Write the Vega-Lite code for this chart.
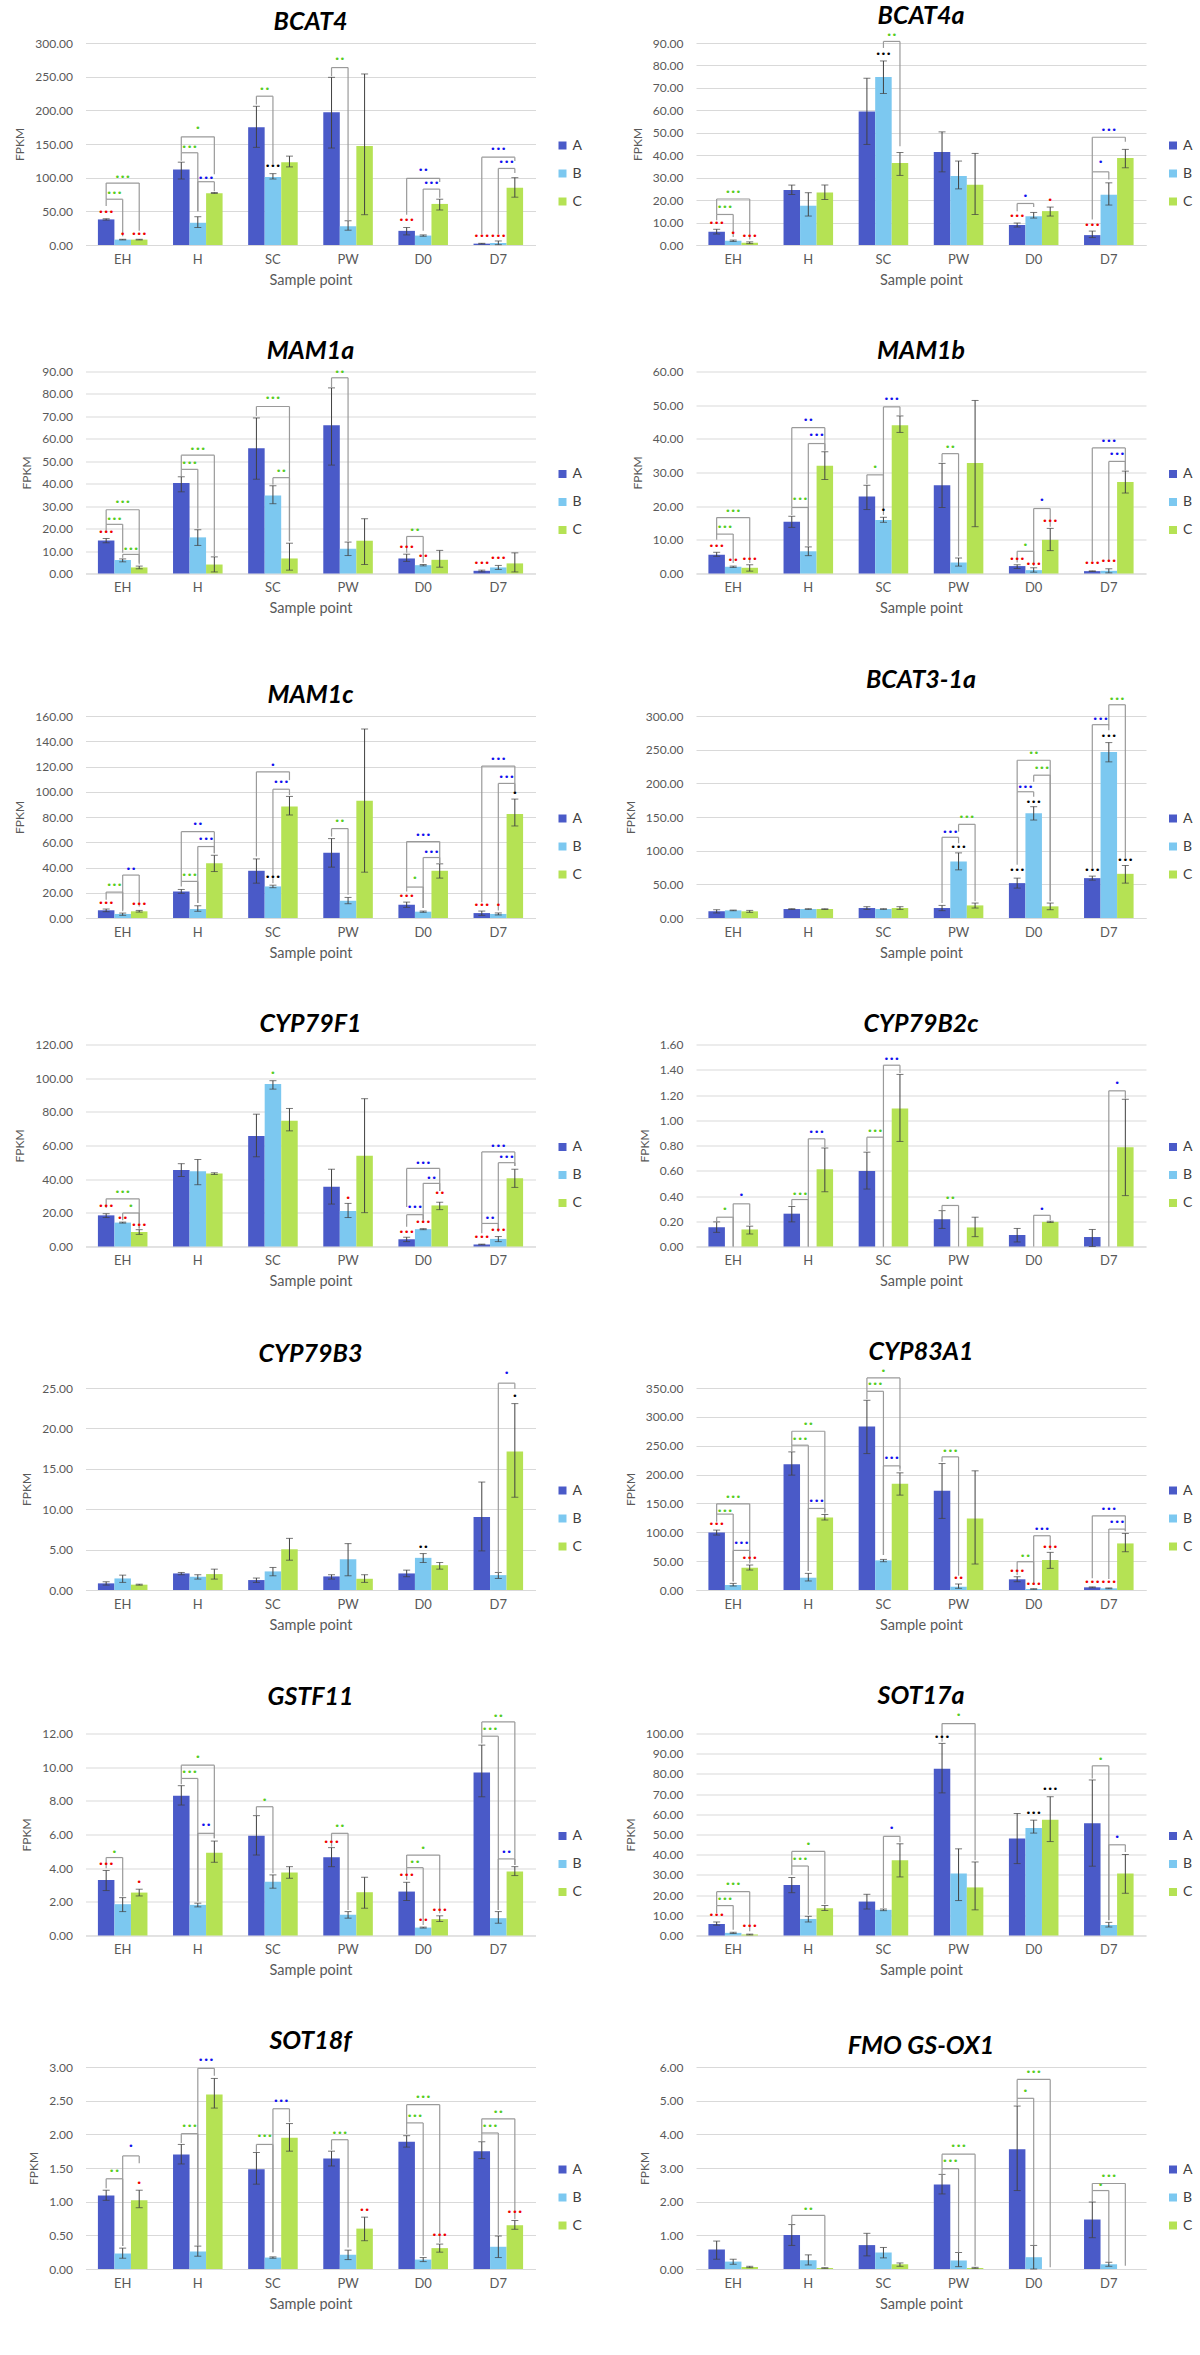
{
  "$schema": "https://vega.github.io/schema/vega-lite/v6.json",
  "padding": {"left": 13.5, "top": 4, "right": 0, "bottom": 0},
  "background": "#ffffff",
  "config": {
    "font": "Lato",
    "view": {"stroke": null, "discreteWidth": 450, "continuousHeight": 202},
    "range": {"category": ["#4a5ac8", "#7cc8f0", "#b5e254"]},
    "scale": {
      "bandPaddingInner": 0.45, "bandPaddingOuter": 0.22,
      "bandWithNestedOffsetPaddingInner": 0.45, "bandWithNestedOffsetPaddingOuter": 0.22,
      "offsetBandPaddingInner": 0, "offsetBandPaddingOuter": 0
    },
    "title": {"fontSize": 25, "fontWeight": "bold", "fontStyle": "italic", "color": "#000000", "offset": 2},
    "axis": {"labelFont": "Lato", "labelColor": "#595959", "titleColor": "#595959", "titleFontWeight": "normal", "ticks": false, "domain": false, "gridColor": "#d9d9d9", "labelFontSize": 12, "titleFontSize": 12},
    "axisX": {"labelAngle": 0, "labelFontSize": 13, "titleFontSize": 14.5, "labelPadding": 8, "titlePadding": 7, "domain": true, "domainColor": "#d9d9d9", "grid": false},
    "axisY": {"labelPadding": 13, "titlePadding": 8, "grid": true},
    "legend": {"orient": "none", "legendX": 470, "legendY": 95.5, "symbolType": "square", "symbolSize": 64, "symbolStrokeWidth": 0, "labelFontSize": 14, "labelColor": "#404040", "rowPadding": 14, "labelOffset": 3}
  },
  "resolve": {"scale": {"color": "independent", "xOffset": "independent"}, "legend": {"color": "independent"}},
  "columns": 2,
  "spacing": {"row": 51.5, "column": 41.5},
  "data": {"values": [
    {"g":"BCAT4","s":"EH","k":"A","v":38,"lo":37,"hi":39},
    {"g":"BCAT4","s":"EH","k":"B","v":8,"lo":7.5,"hi":8.5},
    {"g":"BCAT4","s":"EH","k":"C","v":8,"lo":7.5,"hi":8.5},
    {"g":"BCAT4","s":"H","k":"A","v":112,"lo":98,"hi":123},
    {"g":"BCAT4","s":"H","k":"B","v":33,"lo":26,"hi":42},
    {"g":"BCAT4","s":"H","k":"C","v":77,"lo":76.5,"hi":78},
    {"g":"BCAT4","s":"SC","k":"A","v":175,"lo":145,"hi":206},
    {"g":"BCAT4","s":"SC","k":"B","v":101,"lo":98,"hi":106},
    {"g":"BCAT4","s":"SC","k":"C","v":123,"lo":116,"hi":132},
    {"g":"BCAT4","s":"PW","k":"A","v":197,"lo":144,"hi":249},
    {"g":"BCAT4","s":"PW","k":"B","v":28,"lo":22,"hi":36},
    {"g":"BCAT4","s":"PW","k":"C","v":147,"lo":45,"hi":254},
    {"g":"BCAT4","s":"D0","k":"A","v":21,"lo":15,"hi":26},
    {"g":"BCAT4","s":"D0","k":"B","v":14,"lo":13,"hi":15},
    {"g":"BCAT4","s":"D0","k":"C","v":61,"lo":52,"hi":68},
    {"g":"BCAT4","s":"D7","k":"A","v":2,"lo":1.5,"hi":2.5},
    {"g":"BCAT4","s":"D7","k":"B","v":3,"lo":0.5,"hi":6},
    {"g":"BCAT4","s":"D7","k":"C","v":85,"lo":71,"hi":100},

    {"g":"BCAT4a","s":"EH","k":"A","v":5.9,"lo":4.9,"hi":7},
    {"g":"BCAT4a","s":"EH","k":"B","v":1.9,"lo":1.6,"hi":2.2},
    {"g":"BCAT4a","s":"EH","k":"C","v":1.0,"lo":0.6,"hi":1.4},
    {"g":"BCAT4a","s":"H","k":"A","v":24.5,"lo":22.5,"hi":26.7},
    {"g":"BCAT4a","s":"H","k":"B","v":17.5,"lo":12.9,"hi":23.3},
    {"g":"BCAT4a","s":"H","k":"C","v":23.4,"lo":20.3,"hi":26.7},
    {"g":"BCAT4a","s":"SC","k":"A","v":59.5,"lo":44.8,"hi":74.3},
    {"g":"BCAT4a","s":"SC","k":"B","v":74.9,"lo":67.5,"hi":82},
    {"g":"BCAT4a","s":"SC","k":"C","v":36.5,"lo":31,"hi":41.2},
    {"g":"BCAT4a","s":"PW","k":"A","v":41.4,"lo":32.6,"hi":50.4},
    {"g":"BCAT4a","s":"PW","k":"B","v":30.7,"lo":25,"hi":37.4},
    {"g":"BCAT4a","s":"PW","k":"C","v":26.8,"lo":13.6,"hi":40.8},
    {"g":"BCAT4a","s":"D0","k":"A","v":8.9,"lo":8,"hi":9.8},
    {"g":"BCAT4a","s":"D0","k":"B","v":12.8,"lo":12,"hi":14.5},
    {"g":"BCAT4a","s":"D0","k":"C","v":15.1,"lo":12.9,"hi":16.9},
    {"g":"BCAT4a","s":"D7","k":"A","v":4.4,"lo":3.3,"hi":6.2},
    {"g":"BCAT4a","s":"D7","k":"B","v":22.4,"lo":17.8,"hi":27.7},
    {"g":"BCAT4a","s":"D7","k":"C","v":38.8,"lo":34.4,"hi":42.6},

    {"g":"MAM1a","s":"EH","k":"A","v":14.7,"lo":13.7,"hi":15.6},
    {"g":"MAM1a","s":"EH","k":"B","v":6.0,"lo":5.2,"hi":6.5},
    {"g":"MAM1a","s":"EH","k":"C","v":2.7,"lo":2.1,"hi":3.3},
    {"g":"MAM1a","s":"H","k":"A","v":40.3,"lo":36.4,"hi":43.1},
    {"g":"MAM1a","s":"H","k":"B","v":16.1,"lo":12.5,"hi":19.5},
    {"g":"MAM1a","s":"H","k":"C","v":4.0,"lo":0.7,"hi":7.4},
    {"g":"MAM1a","s":"SC","k":"A","v":55.8,"lo":42,"hi":69.3},
    {"g":"MAM1a","s":"SC","k":"B","v":34.8,"lo":31.1,"hi":39.1},
    {"g":"MAM1a","s":"SC","k":"C","v":6.7,"lo":1.5,"hi":13.5},
    {"g":"MAM1a","s":"PW","k":"A","v":66,"lo":48.3,"hi":82.7},
    {"g":"MAM1a","s":"PW","k":"B","v":11,"lo":8,"hi":14},
    {"g":"MAM1a","s":"PW","k":"C","v":14.6,"lo":4,"hi":24.4},
    {"g":"MAM1a","s":"D0","k":"A","v":6.7,"lo":5.4,"hi":8.6},
    {"g":"MAM1a","s":"D0","k":"B","v":3.7,"lo":3.4,"hi":4},
    {"g":"MAM1a","s":"D0","k":"C","v":6.1,"lo":2.8,"hi":10.3},
    {"g":"MAM1a","s":"D7","k":"A","v":1.2,"lo":0.7,"hi":1.5},
    {"g":"MAM1a","s":"D7","k":"B","v":2.7,"lo":1.8,"hi":3.6},
    {"g":"MAM1a","s":"D7","k":"C","v":4.5,"lo":0.7,"hi":9.2},

    {"g":"MAM1b","s":"EH","k":"A","v":5.6,"lo":5.1,"hi":6.3},
    {"g":"MAM1b","s":"EH","k":"B","v":2.0,"lo":1.8,"hi":2.2},
    {"g":"MAM1b","s":"EH","k":"C","v":1.7,"lo":0.7,"hi":2.6},
    {"g":"MAM1b","s":"H","k":"A","v":15.4,"lo":13.7,"hi":17},
    {"g":"MAM1b","s":"H","k":"B","v":6.6,"lo":5.3,"hi":7.9},
    {"g":"MAM1b","s":"H","k":"C","v":32,"lo":27.9,"hi":36.2},
    {"g":"MAM1b","s":"SC","k":"A","v":22.9,"lo":19,"hi":26.2},
    {"g":"MAM1b","s":"SC","k":"B","v":15.9,"lo":15.2,"hi":16.7},
    {"g":"MAM1b","s":"SC","k":"C","v":44,"lo":41.9,"hi":46.8},
    {"g":"MAM1b","s":"PW","k":"A","v":26.2,"lo":19.6,"hi":32.7},
    {"g":"MAM1b","s":"PW","k":"B","v":3.3,"lo":2.2,"hi":4.6},
    {"g":"MAM1b","s":"PW","k":"C","v":32.8,"lo":13.9,"hi":51.4},
    {"g":"MAM1b","s":"D0","k":"A","v":2.2,"lo":1.5,"hi":2.6},
    {"g":"MAM1b","s":"D0","k":"B","v":1.0,"lo":0.4,"hi":1.7},
    {"g":"MAM1b","s":"D0","k":"C","v":10,"lo":6.8,"hi":13.4},
    {"g":"MAM1b","s":"D7","k":"A","v":0.7,"lo":0.6,"hi":0.8},
    {"g":"MAM1b","s":"D7","k":"B","v":0.8,"lo":0.2,"hi":1.4},
    {"g":"MAM1b","s":"D7","k":"C","v":27.2,"lo":23.9,"hi":30.4},

    {"g":"MAM1c","s":"EH","k":"A","v":6.1,"lo":5,"hi":7.1},
    {"g":"MAM1c","s":"EH","k":"B","v":3.2,"lo":2.1,"hi":3.9},
    {"g":"MAM1c","s":"EH","k":"C","v":5.3,"lo":4.7,"hi":6},
    {"g":"MAM1c","s":"H","k":"A","v":21,"lo":19.5,"hi":22.6},
    {"g":"MAM1c","s":"H","k":"B","v":7.1,"lo":5.3,"hi":9.7},
    {"g":"MAM1c","s":"H","k":"C","v":43.4,"lo":36.8,"hi":49.7},
    {"g":"MAM1c","s":"SC","k":"A","v":37.4,"lo":27.6,"hi":46.8},
    {"g":"MAM1c","s":"SC","k":"B","v":25,"lo":24,"hi":26},
    {"g":"MAM1c","s":"SC","k":"C","v":88.4,"lo":81.6,"hi":96.3},
    {"g":"MAM1c","s":"PW","k":"A","v":51.6,"lo":40.3,"hi":62.9},
    {"g":"MAM1c","s":"PW","k":"B","v":13.7,"lo":11.3,"hi":16.3},
    {"g":"MAM1c","s":"PW","k":"C","v":92.9,"lo":36.3,"hi":149.7},
    {"g":"MAM1c","s":"D0","k":"A","v":10.5,"lo":8.4,"hi":12.6},
    {"g":"MAM1c","s":"D0","k":"B","v":5,"lo":4.5,"hi":5.5},
    {"g":"MAM1c","s":"D0","k":"C","v":37.4,"lo":31.6,"hi":42.9},
    {"g":"MAM1c","s":"D7","k":"A","v":3.9,"lo":2.1,"hi":5.5},
    {"g":"MAM1c","s":"D7","k":"B","v":3.2,"lo":2.4,"hi":4},
    {"g":"MAM1c","s":"D7","k":"C","v":82.4,"lo":72.9,"hi":94.2},

    {"g":"BCAT3-1a","s":"EH","k":"A","v":9.9,"lo":7.5,"hi":12.3},
    {"g":"BCAT3-1a","s":"EH","k":"B","v":11.3,"lo":10.8,"hi":11.8},
    {"g":"BCAT3-1a","s":"EH","k":"C","v":9.9,"lo":8.4,"hi":11.3},
    {"g":"BCAT3-1a","s":"H","k":"A","v":13.3,"lo":12.8,"hi":13.8},
    {"g":"BCAT3-1a","s":"H","k":"B","v":13.3,"lo":12.8,"hi":13.8},
    {"g":"BCAT3-1a","s":"H","k":"C","v":13.3,"lo":12.8,"hi":13.8},
    {"g":"BCAT3-1a","s":"SC","k":"A","v":14.8,"lo":12.8,"hi":16.8},
    {"g":"BCAT3-1a","s":"SC","k":"B","v":13.3,"lo":12.8,"hi":13.8},
    {"g":"BCAT3-1a","s":"SC","k":"C","v":14.8,"lo":12.8,"hi":16.8},
    {"g":"BCAT3-1a","s":"PW","k":"A","v":14.8,"lo":10.9,"hi":18.7},
    {"g":"BCAT3-1a","s":"PW","k":"B","v":83.9,"lo":71.5,"hi":96.7},
    {"g":"BCAT3-1a","s":"PW","k":"C","v":18.7,"lo":14.8,"hi":22.2},
    {"g":"BCAT3-1a","s":"D0","k":"A","v":51.8,"lo":44.4,"hi":59.2},
    {"g":"BCAT3-1a","s":"D0","k":"B","v":155.4,"lo":145.5,"hi":165.3},
    {"g":"BCAT3-1a","s":"D0","k":"C","v":17.3,"lo":12.3,"hi":22.2},
    {"g":"BCAT3-1a","s":"D7","k":"A","v":59.2,"lo":56.2,"hi":62.2},
    {"g":"BCAT3-1a","s":"D7","k":"B","v":246.7,"lo":231.9,"hi":260.5},
    {"g":"BCAT3-1a","s":"D7","k":"C","v":65.6,"lo":51.8,"hi":78},

    {"g":"CYP79F1","s":"EH","k":"A","v":18.5,"lo":17.2,"hi":19.5},
    {"g":"CYP79F1","s":"EH","k":"B","v":14.2,"lo":13.9,"hi":14.5},
    {"g":"CYP79F1","s":"EH","k":"C","v":8.6,"lo":7.2,"hi":10},
    {"g":"CYP79F1","s":"H","k":"A","v":45.5,"lo":41.6,"hi":49.2},
    {"g":"CYP79F1","s":"H","k":"B","v":44.7,"lo":36.7,"hi":51.7},
    {"g":"CYP79F1","s":"H","k":"C","v":43.3,"lo":42.8,"hi":43.8},
    {"g":"CYP79F1","s":"SC","k":"A","v":65.6,"lo":53.3,"hi":78.6},
    {"g":"CYP79F1","s":"SC","k":"B","v":96.6,"lo":93.5,"hi":98.5},
    {"g":"CYP79F1","s":"SC","k":"C","v":74.7,"lo":68.7,"hi":82},
    {"g":"CYP79F1","s":"PW","k":"A","v":35.5,"lo":25.2,"hi":45.9},
    {"g":"CYP79F1","s":"PW","k":"B","v":21.1,"lo":17.2,"hi":25.6},
    {"g":"CYP79F1","s":"PW","k":"C","v":53.9,"lo":20.1,"hi":87.8},
    {"g":"CYP79F1","s":"D0","k":"A","v":4.3,"lo":2.9,"hi":5.5},
    {"g":"CYP79F1","s":"D0","k":"B","v":10.3,"lo":10,"hi":10.6},
    {"g":"CYP79F1","s":"D0","k":"C","v":24.4,"lo":21.9,"hi":26.3},
    {"g":"CYP79F1","s":"D7","k":"A","v":1.2,"lo":1,"hi":1.4},
    {"g":"CYP79F1","s":"D7","k":"B","v":4.5,"lo":2.9,"hi":5.9},
    {"g":"CYP79F1","s":"D7","k":"C","v":40.6,"lo":35.1,"hi":45.9},

    {"g":"CYP79B2c","s":"EH","k":"A","v":0.153,"lo":0.112,"hi":0.195},
    {"g":"CYP79B2c","s":"EH","k":"C","v":0.135,"lo":0.099,"hi":0.161},
    {"g":"CYP79B2c","s":"H","k":"A","v":0.26,"lo":0.195,"hi":0.317},
    {"g":"CYP79B2c","s":"H","k":"C","v":0.611,"lo":0.434,"hi":0.78},
    {"g":"CYP79B2c","s":"SC","k":"A","v":0.598,"lo":0.455,"hi":0.747},
    {"g":"CYP79B2c","s":"SC","k":"C","v":1.093,"lo":0.832,"hi":1.363},
    {"g":"CYP79B2c","s":"PW","k":"A","v":0.216,"lo":0.143,"hi":0.284},
    {"g":"CYP79B2c","s":"PW","k":"C","v":0.151,"lo":0.078,"hi":0.232},
    {"g":"CYP79B2c","s":"D0","k":"A","v":0.091,"lo":0.036,"hi":0.143},
    {"g":"CYP79B2c","s":"D0","k":"C","v":0.195,"lo":0.19,"hi":0.2},
    {"g":"CYP79B2c","s":"D7","k":"A","v":0.075,"lo":0,"hi":0.135},
    {"g":"CYP79B2c","s":"D7","k":"C","v":0.786,"lo":0.403,"hi":1.166},

    {"g":"CYP79B3","s":"EH","k":"A","v":0.82,"lo":0.61,"hi":1.02},
    {"g":"CYP79B3","s":"EH","k":"B","v":1.43,"lo":0.94,"hi":1.84},
    {"g":"CYP79B3","s":"EH","k":"C","v":0.66,"lo":0.6,"hi":0.72},
    {"g":"CYP79B3","s":"H","k":"A","v":2.05,"lo":1.89,"hi":2.17},
    {"g":"CYP79B3","s":"H","k":"B","v":1.64,"lo":1.35,"hi":1.89},
    {"g":"CYP79B3","s":"H","k":"C","v":1.97,"lo":1.35,"hi":2.58},
    {"g":"CYP79B3","s":"SC","k":"A","v":1.23,"lo":0.94,"hi":1.48},
    {"g":"CYP79B3","s":"SC","k":"B","v":2.3,"lo":1.76,"hi":2.79},
    {"g":"CYP79B3","s":"SC","k":"C","v":5.04,"lo":3.69,"hi":6.39},
    {"g":"CYP79B3","s":"PW","k":"A","v":1.68,"lo":1.35,"hi":1.89},
    {"g":"CYP79B3","s":"PW","k":"B","v":3.81,"lo":1.76,"hi":5.74},
    {"g":"CYP79B3","s":"PW","k":"C","v":1.39,"lo":0.94,"hi":1.89},
    {"g":"CYP79B3","s":"D0","k":"A","v":2.05,"lo":1.64,"hi":2.46},
    {"g":"CYP79B3","s":"D0","k":"B","v":3.98,"lo":3.4,"hi":4.51},
    {"g":"CYP79B3","s":"D0","k":"C","v":3.07,"lo":2.58,"hi":3.4},
    {"g":"CYP79B3","s":"D7","k":"A","v":9.02,"lo":4.84,"hi":13.36},
    {"g":"CYP79B3","s":"D7","k":"B","v":1.84,"lo":1.43,"hi":2.17},
    {"g":"CYP79B3","s":"D7","k":"C","v":17.13,"lo":11.48,"hi":23.07},

    {"g":"CYP83A1","s":"EH","k":"A","v":99.8,"lo":95.2,"hi":103.8},
    {"g":"CYP83A1","s":"EH","k":"B","v":8.7,"lo":6.9,"hi":11.5},
    {"g":"CYP83A1","s":"EH","k":"C","v":38.6,"lo":34.6,"hi":43.3},
    {"g":"CYP83A1","s":"H","k":"A","v":218,"lo":199,"hi":239.3},
    {"g":"CYP83A1","s":"H","k":"B","v":21.3,"lo":15.6,"hi":28.8},
    {"g":"CYP83A1","s":"H","k":"C","v":125.7,"lo":121.1,"hi":130.9},
    {"g":"CYP83A1","s":"SC","k":"A","v":283.2,"lo":236.4,"hi":328.7},
    {"g":"CYP83A1","s":"SC","k":"B","v":51.3,"lo":49,"hi":53},
    {"g":"CYP83A1","s":"SC","k":"C","v":184,"lo":164.4,"hi":203},
    {"g":"CYP83A1","s":"PW","k":"A","v":171.9,"lo":124,"hi":219.1},
    {"g":"CYP83A1","s":"PW","k":"B","v":5.8,"lo":2.9,"hi":10.4},
    {"g":"CYP83A1","s":"PW","k":"C","v":124,"lo":45,"hi":206.5},
    {"g":"CYP83A1","s":"D0","k":"A","v":18.5,"lo":14.4,"hi":23},
    {"g":"CYP83A1","s":"D0","k":"B","v":1.7,"lo":1.2,"hi":2.2},
    {"g":"CYP83A1","s":"D0","k":"C","v":51.9,"lo":37.5,"hi":65.2},
    {"g":"CYP83A1","s":"D7","k":"A","v":4.6,"lo":3.8,"hi":5.4},
    {"g":"CYP83A1","s":"D7","k":"B","v":2.9,"lo":2.2,"hi":3.6},
    {"g":"CYP83A1","s":"D7","k":"C","v":80.7,"lo":66.3,"hi":98},

    {"g":"GSTF11","s":"EH","k":"A","v":3.3,"lo":2.67,"hi":3.86},
    {"g":"GSTF11","s":"EH","k":"B","v":1.86,"lo":1.42,"hi":2.25},
    {"g":"GSTF11","s":"EH","k":"C","v":2.55,"lo":2.35,"hi":2.75},
    {"g":"GSTF11","s":"H","k":"A","v":8.3,"lo":7.75,"hi":8.9},
    {"g":"GSTF11","s":"H","k":"B","v":1.82,"lo":1.7,"hi":1.92},
    {"g":"GSTF11","s":"H","k":"C","v":4.92,"lo":4.35,"hi":5.61},
    {"g":"GSTF11","s":"SC","k":"A","v":5.93,"lo":4.78,"hi":7.12},
    {"g":"GSTF11","s":"SC","k":"B","v":3.2,"lo":2.81,"hi":3.6},
    {"g":"GSTF11","s":"SC","k":"C","v":3.74,"lo":3.4,"hi":4.09},
    {"g":"GSTF11","s":"PW","k":"A","v":4.65,"lo":4.09,"hi":5.22},
    {"g":"GSTF11","s":"PW","k":"B","v":1.23,"lo":1.03,"hi":1.42},
    {"g":"GSTF11","s":"PW","k":"C","v":2.57,"lo":1.62,"hi":3.46},
    {"g":"GSTF11","s":"D0","k":"A","v":2.61,"lo":2.08,"hi":3.16},
    {"g":"GSTF11","s":"D0","k":"B","v":0.47,"lo":0.44,"hi":0.5},
    {"g":"GSTF11","s":"D0","k":"C","v":0.97,"lo":0.83,"hi":1.17},
    {"g":"GSTF11","s":"D7","k":"A","v":9.69,"lo":8.24,"hi":11.31},
    {"g":"GSTF11","s":"D7","k":"B","v":1.03,"lo":0.73,"hi":1.42},
    {"g":"GSTF11","s":"D7","k":"C","v":3.8,"lo":3.56,"hi":4.09},

    {"g":"SOT17a","s":"EH","k":"A","v":5.7,"lo":5.1,"hi":6.7},
    {"g":"SOT17a","s":"EH","k":"B","v":1.3,"lo":1,"hi":1.6},
    {"g":"SOT17a","s":"EH","k":"C","v":0.5,"lo":0.3,"hi":0.7},
    {"g":"SOT17a","s":"H","k":"A","v":25,"lo":21.2,"hi":28.7},
    {"g":"SOT17a","s":"H","k":"B","v":8.2,"lo":6.7,"hi":9.5},
    {"g":"SOT17a","s":"H","k":"C","v":13.5,"lo":12.4,"hi":14.8},
    {"g":"SOT17a","s":"SC","k":"A","v":16.8,"lo":13.1,"hi":20.4},
    {"g":"SOT17a","s":"SC","k":"B","v":12.7,"lo":12.3,"hi":13.1},
    {"g":"SOT17a","s":"SC","k":"C","v":37.2,"lo":29,"hi":45.4},
    {"g":"SOT17a","s":"PW","k":"A","v":82.5,"lo":70.6,"hi":95.1},
    {"g":"SOT17a","s":"PW","k":"B","v":30.7,"lo":17.3,"hi":42.9},
    {"g":"SOT17a","s":"PW","k":"C","v":23.8,"lo":12.7,"hi":36.4},
    {"g":"SOT17a","s":"D0","k":"A","v":48,"lo":35.6,"hi":60.4},
    {"g":"SOT17a","s":"D0","k":"B","v":53.2,"lo":50.7,"hi":57.1},
    {"g":"SOT17a","s":"D0","k":"C","v":57.3,"lo":46.5,"hi":68.7},
    {"g":"SOT17a","s":"D7","k":"A","v":55.6,"lo":34.3,"hi":77},
    {"g":"SOT17a","s":"D7","k":"B","v":5.2,"lo":4.2,"hi":6.5},
    {"g":"SOT17a","s":"D7","k":"C","v":30.7,"lo":20.9,"hi":40.1},

    {"g":"SOT18f","s":"EH","k":"A","v":1.09,"lo":1.02,"hi":1.17},
    {"g":"SOT18f","s":"EH","k":"B","v":0.23,"lo":0.16,"hi":0.31},
    {"g":"SOT18f","s":"EH","k":"C","v":1.02,"lo":0.91,"hi":1.17},
    {"g":"SOT18f","s":"H","k":"A","v":1.7,"lo":1.56,"hi":1.85},
    {"g":"SOT18f","s":"H","k":"B","v":0.26,"lo":0.19,"hi":0.34},
    {"g":"SOT18f","s":"H","k":"C","v":2.59,"lo":2.39,"hi":2.83},
    {"g":"SOT18f","s":"SC","k":"A","v":1.48,"lo":1.26,"hi":1.73},
    {"g":"SOT18f","s":"SC","k":"B","v":0.17,"lo":0.16,"hi":0.18},
    {"g":"SOT18f","s":"SC","k":"C","v":1.95,"lo":1.75,"hi":2.16},
    {"g":"SOT18f","s":"PW","k":"A","v":1.64,"lo":1.53,"hi":1.75},
    {"g":"SOT18f","s":"PW","k":"B","v":0.21,"lo":0.14,"hi":0.28},
    {"g":"SOT18f","s":"PW","k":"C","v":0.6,"lo":0.42,"hi":0.77},
    {"g":"SOT18f","s":"D0","k":"A","v":1.89,"lo":1.81,"hi":1.98},
    {"g":"SOT18f","s":"D0","k":"B","v":0.14,"lo":0.11,"hi":0.17},
    {"g":"SOT18f","s":"D0","k":"C","v":0.31,"lo":0.25,"hi":0.37},
    {"g":"SOT18f","s":"D7","k":"A","v":1.75,"lo":1.64,"hi":1.89},
    {"g":"SOT18f","s":"D7","k":"B","v":0.33,"lo":0.17,"hi":0.49},
    {"g":"SOT18f","s":"D7","k":"C","v":0.65,"lo":0.59,"hi":0.72},

    {"g":"FMO GS-OX1","s":"EH","k":"A","v":0.58,"lo":0.29,"hi":0.83},
    {"g":"FMO GS-OX1","s":"EH","k":"B","v":0.22,"lo":0.14,"hi":0.29},
    {"g":"FMO GS-OX1","s":"EH","k":"C","v":0.06,"lo":0.04,"hi":0.08},
    {"g":"FMO GS-OX1","s":"H","k":"A","v":1.01,"lo":0.7,"hi":1.32},
    {"g":"FMO GS-OX1","s":"H","k":"B","v":0.26,"lo":0.12,"hi":0.42},
    {"g":"FMO GS-OX1","s":"H","k":"C","v":0.03,"lo":0.02,"hi":0.04},
    {"g":"FMO GS-OX1","s":"SC","k":"A","v":0.71,"lo":0.39,"hi":1.06},
    {"g":"FMO GS-OX1","s":"SC","k":"B","v":0.49,"lo":0.33,"hi":0.64},
    {"g":"FMO GS-OX1","s":"SC","k":"C","v":0.14,"lo":0.08,"hi":0.18},
    {"g":"FMO GS-OX1","s":"PW","k":"A","v":2.51,"lo":2.23,"hi":2.81},
    {"g":"FMO GS-OX1","s":"PW","k":"B","v":0.25,"lo":0.07,"hi":0.49},
    {"g":"FMO GS-OX1","s":"PW","k":"C","v":0.03,"lo":0.02,"hi":0.05},
    {"g":"FMO GS-OX1","s":"D0","k":"A","v":3.56,"lo":2.33,"hi":4.84},
    {"g":"FMO GS-OX1","s":"D0","k":"B","v":0.35,"lo":0,"hi":0.7},
    {"g":"FMO GS-OX1","s":"D7","k":"A","v":1.47,"lo":0.93,"hi":1.99},
    {"g":"FMO GS-OX1","s":"D7","k":"B","v":0.14,"lo":0.08,"hi":0.2},

    {"g":"BCAT4","s":"EH","id":1,"at":"A","y0":58,"top":68},
    {"g":"BCAT4","s":"EH","id":1,"at":"B","y0":13,"top":68},
    {"g":"BCAT4","s":"EH","id":2,"at":"A","y0":68,"top":92},
    {"g":"BCAT4","s":"EH","id":2,"at":"C","y0":21,"top":92},
    {"g":"BCAT4","s":"H","id":1,"at":"A","y0":125,"top":137},
    {"g":"BCAT4","s":"H","id":1,"at":"B","y0":50,"top":137},
    {"g":"BCAT4","s":"H","id":2,"at":"A","y0":137,"top":160.6},
    {"g":"BCAT4","s":"H","id":2,"at":"C","y0":105,"top":160.6},
    {"g":"BCAT4","s":"H","id":3,"at":"B","y0":50,"top":94},
    {"g":"BCAT4","s":"H","id":3,"at":"C","y0":80,"top":94},
    {"g":"BCAT4","s":"SC","id":1,"at":"A","y0":208.6,"top":221},
    {"g":"BCAT4","s":"SC","id":1,"at":"B","y0":120,"top":221},
    {"g":"BCAT4","s":"PW","id":1,"at":"A","y0":250.6,"top":263.5},
    {"g":"BCAT4","s":"PW","id":1,"at":"B","y0":35.6,"top":263.5},
    {"g":"BCAT4","s":"D0","id":1,"at":"A","y0":45,"top":99},
    {"g":"BCAT4","s":"D0","id":1,"at":"C","y0":93.4,"top":99},
    {"g":"BCAT4","s":"D0","id":2,"at":"B","y0":21,"top":83},
    {"g":"BCAT4","s":"D0","id":2,"at":"C","y0":70,"top":83},
    {"g":"BCAT4","s":"D7","id":1,"at":"A","y0":16,"top":130.5},
    {"g":"BCAT4","s":"D7","id":1,"at":"C","y0":124.6,"top":130.5},
    {"g":"BCAT4","s":"D7","id":2,"at":"B","y0":16,"top":113.7},
    {"g":"BCAT4","s":"D7","id":2,"at":"C","y0":107,"top":113.7},

    {"g":"BCAT4a","s":"EH","id":1,"at":"A","y0":11,"top":13.6},
    {"g":"BCAT4a","s":"EH","id":1,"at":"B","y0":3.6,"top":13.6},
    {"g":"BCAT4a","s":"EH","id":2,"at":"A","y0":13.6,"top":20.5},
    {"g":"BCAT4a","s":"EH","id":2,"at":"C","y0":2.5,"top":20.5},
    {"g":"BCAT4a","s":"SC","id":1,"at":"B","y0":87.8,"top":90.7},
    {"g":"BCAT4a","s":"SC","id":1,"at":"C","y0":44,"top":90.7},
    {"g":"BCAT4a","s":"D0","id":1,"at":"A","y0":15,"top":18.5},
    {"g":"BCAT4a","s":"D0","id":1,"at":"B","y0":16.9,"top":18.5},
    {"g":"BCAT4a","s":"D7","id":1,"at":"A","y0":11.4,"top":32.6},
    {"g":"BCAT4a","s":"D7","id":1,"at":"B","y0":29.2,"top":32.6},
    {"g":"BCAT4a","s":"D7","id":2,"at":"A","y0":32.6,"top":48},
    {"g":"BCAT4a","s":"D7","id":2,"at":"C","y0":46,"top":48},

    {"g":"MAM1a","s":"EH","id":1,"at":"A","y0":18.9,"top":21.9},
    {"g":"MAM1a","s":"EH","id":1,"at":"B","y0":9.2,"top":21.9},
    {"g":"MAM1a","s":"EH","id":2,"at":"A","y0":21.9,"top":28.4},
    {"g":"MAM1a","s":"EH","id":2,"at":"C","y0":4.8,"top":28.4},
    {"g":"MAM1a","s":"EH","id":3,"at":"B","y0":7,"top":8.5},
    {"g":"MAM1a","s":"EH","id":3,"at":"C","y0":4,"top":8.5},
    {"g":"MAM1a","s":"H","id":1,"at":"A","y0":43.4,"top":46.4},
    {"g":"MAM1a","s":"H","id":1,"at":"B","y0":20,"top":46.4},
    {"g":"MAM1a","s":"H","id":2,"at":"A","y0":46.4,"top":52.7},
    {"g":"MAM1a","s":"H","id":2,"at":"C","y0":7.7,"top":52.7},
    {"g":"MAM1a","s":"SC","id":1,"at":"A","y0":70.2,"top":74.4},
    {"g":"MAM1a","s":"SC","id":1,"at":"C","y0":14.4,"top":74.4},
    {"g":"MAM1a","s":"SC","id":2,"at":"B","y0":39.7,"top":42.7},
    {"g":"MAM1a","s":"SC","id":2,"at":"C","y0":14.4,"top":42.7},
    {"g":"MAM1a","s":"PW","id":1,"at":"A","y0":82.9,"top":87.2},
    {"g":"MAM1a","s":"PW","id":1,"at":"B","y0":14.4,"top":87.2},
    {"g":"MAM1a","s":"D0","id":1,"at":"A","y0":9.2,"top":16.5},
    {"g":"MAM1a","s":"D0","id":1,"at":"B","y0":4.8,"top":16.5},

    {"g":"MAM1b","s":"EH","id":1,"at":"A","y0":10,"top":11.7},
    {"g":"MAM1b","s":"EH","id":1,"at":"B","y0":3.1,"top":11.7},
    {"g":"MAM1b","s":"EH","id":2,"at":"A","y0":11.7,"top":16.6},
    {"g":"MAM1b","s":"EH","id":2,"at":"C","y0":3.1,"top":16.6},
    {"g":"MAM1b","s":"H","id":1,"at":"A","y0":17.4,"top":19.6},
    {"g":"MAM1b","s":"H","id":1,"at":"B","y0":8.5,"top":19.6},
    {"g":"MAM1b","s":"H","id":2,"at":"A","y0":19.6,"top":43.3},
    {"g":"MAM1b","s":"H","id":2,"at":"C","y0":36.5,"top":43.3},
    {"g":"MAM1b","s":"H","id":3,"at":"B","y0":8,"top":38.6},
    {"g":"MAM1b","s":"H","id":3,"at":"C","y0":36.5,"top":38.6},
    {"g":"MAM1b","s":"SC","id":1,"at":"A","y0":26.5,"top":29.3},
    {"g":"MAM1b","s":"SC","id":1,"at":"B","y0":17.4,"top":29.3},
    {"g":"MAM1b","s":"SC","id":2,"at":"B","y0":19,"top":49.5},
    {"g":"MAM1b","s":"SC","id":2,"at":"C","y0":46.8,"top":49.5},
    {"g":"MAM1b","s":"PW","id":1,"at":"A","y0":33,"top":35.6},
    {"g":"MAM1b","s":"PW","id":1,"at":"B","y0":5.1,"top":35.6},
    {"g":"MAM1b","s":"D0","id":1,"at":"A","y0":3.3,"top":6.6},
    {"g":"MAM1b","s":"D0","id":1,"at":"B","y0":2.2,"top":6.6},
    {"g":"MAM1b","s":"D0","id":2,"at":"B","y0":2.5,"top":19.3},
    {"g":"MAM1b","s":"D0","id":2,"at":"C","y0":13.9,"top":19.3},
    {"g":"MAM1b","s":"D7","id":1,"at":"A","y0":3.6,"top":37.3},
    {"g":"MAM1b","s":"D7","id":1,"at":"C","y0":30.6,"top":37.3},
    {"g":"MAM1b","s":"D7","id":2,"at":"B","y0":3.6,"top":33.3},
    {"g":"MAM1b","s":"D7","id":2,"at":"C","y0":30.6,"top":33.3},

    {"g":"MAM1c","s":"EH","id":1,"at":"A","y0":14.5,"top":20.5},
    {"g":"MAM1c","s":"EH","id":1,"at":"B","y0":5.3,"top":20.5},
    {"g":"MAM1c","s":"EH","id":2,"at":"B","y0":6.6,"top":34},
    {"g":"MAM1c","s":"EH","id":2,"at":"C","y0":9.2,"top":34},
    {"g":"MAM1c","s":"H","id":1,"at":"A","y0":25,"top":29},
    {"g":"MAM1c","s":"H","id":1,"at":"B","y0":11.8,"top":29},
    {"g":"MAM1c","s":"H","id":2,"at":"A","y0":29,"top":68.4},
    {"g":"MAM1c","s":"H","id":2,"at":"C","y0":51.3,"top":68.4},
    {"g":"MAM1c","s":"H","id":3,"at":"B","y0":11.8,"top":56.6},
    {"g":"MAM1c","s":"H","id":3,"at":"C","y0":51.3,"top":56.6},
    {"g":"MAM1c","s":"SC","id":1,"at":"A","y0":48.7,"top":115.8},
    {"g":"MAM1c","s":"SC","id":1,"at":"C","y0":109.2,"top":115.8},
    {"g":"MAM1c","s":"SC","id":2,"at":"B","y0":27.6,"top":102},
    {"g":"MAM1c","s":"SC","id":2,"at":"C","y0":97.4,"top":102},
    {"g":"MAM1c","s":"PW","id":1,"at":"A","y0":64.5,"top":70.8},
    {"g":"MAM1c","s":"PW","id":1,"at":"B","y0":18.4,"top":70.8},
    {"g":"MAM1c","s":"D0","id":1,"at":"A","y0":21,"top":24.5},
    {"g":"MAM1c","s":"D0","id":1,"at":"B","y0":7.9,"top":24.5},
    {"g":"MAM1c","s":"D0","id":2,"at":"A","y0":24.5,"top":60.5},
    {"g":"MAM1c","s":"D0","id":2,"at":"C","y0":43.4,"top":60.5},
    {"g":"MAM1c","s":"D0","id":3,"at":"B","y0":7.9,"top":47.9},
    {"g":"MAM1c","s":"D0","id":3,"at":"C","y0":43.4,"top":47.9},
    {"g":"MAM1c","s":"D7","id":1,"at":"A","y0":12.4,"top":120.3},
    {"g":"MAM1c","s":"D7","id":1,"at":"C","y0":100,"top":120.3},
    {"g":"MAM1c","s":"D7","id":2,"at":"B","y0":6,"top":106.6},
    {"g":"MAM1c","s":"D7","id":2,"at":"C","y0":100,"top":106.6},

    {"g":"BCAT3-1a","s":"PW","id":1,"at":"A","y0":22.2,"top":119.9},
    {"g":"BCAT3-1a","s":"PW","id":1,"at":"B","y0":111,"top":119.9},
    {"g":"BCAT3-1a","s":"PW","id":2,"at":"B","y0":128.3,"top":139.1},
    {"g":"BCAT3-1a","s":"PW","id":2,"at":"C","y0":24.7,"top":139.1},
    {"g":"BCAT3-1a","s":"D0","id":1,"at":"A","y0":78.9,"top":187.5},
    {"g":"BCAT3-1a","s":"D0","id":1,"at":"B","y0":180,"top":187.5},
    {"g":"BCAT3-1a","s":"D0","id":2,"at":"A","y0":187.5,"top":234.3},
    {"g":"BCAT3-1a","s":"D0","id":2,"at":"C","y0":24.7,"top":234.3},
    {"g":"BCAT3-1a","s":"D0","id":3,"at":"B","y0":202.3,"top":212.1},
    {"g":"BCAT3-1a","s":"D0","id":3,"at":"C","y0":24.7,"top":212.1},
    {"g":"BCAT3-1a","s":"D7","id":1,"at":"A","y0":74,"top":287.1},
    {"g":"BCAT3-1a","s":"D7","id":1,"at":"B","y0":278.7,"top":287.1},
    {"g":"BCAT3-1a","s":"D7","id":2,"at":"B","y0":286.1,"top":316.7},
    {"g":"BCAT3-1a","s":"D7","id":2,"at":"C","y0":88.8,"top":316.7},

    {"g":"CYP79F1","s":"EH","id":1,"at":"A","y0":22.8,"top":28.3},
    {"g":"CYP79F1","s":"EH","id":1,"at":"C","y0":10.7,"top":28.3},
    {"g":"CYP79F1","s":"EH","id":2,"at":"B","y0":15.6,"top":19.9},
    {"g":"CYP79F1","s":"EH","id":2,"at":"C","y0":10.7,"top":19.9},
    {"g":"CYP79F1","s":"D0","id":1,"at":"A","y0":11.7,"top":18.9},
    {"g":"CYP79F1","s":"D0","id":1,"at":"B","y0":14.2,"top":18.9},
    {"g":"CYP79F1","s":"D0","id":2,"at":"A","y0":23.4,"top":46.4},
    {"g":"CYP79F1","s":"D0","id":2,"at":"C","y0":33,"top":46.4},
    {"g":"CYP79F1","s":"D0","id":3,"at":"B","y0":16,"top":37.5},
    {"g":"CYP79F1","s":"D0","id":3,"at":"C","y0":33,"top":37.5},
    {"g":"CYP79F1","s":"D7","id":1,"at":"A","y0":7.8,"top":13.7},
    {"g":"CYP79F1","s":"D7","id":1,"at":"B","y0":8.8,"top":13.7},
    {"g":"CYP79F1","s":"D7","id":2,"at":"A","y0":13.7,"top":56.2},
    {"g":"CYP79F1","s":"D7","id":2,"at":"C","y0":47.8,"top":56.2},
    {"g":"CYP79F1","s":"D7","id":3,"at":"B","y0":8.8,"top":49.8},
    {"g":"CYP79F1","s":"D7","id":3,"at":"C","y0":47.8,"top":49.8},

    {"g":"CYP79B2c","s":"EH","id":1,"at":"A","y0":0.19,"top":0.232},
    {"g":"CYP79B2c","s":"EH","id":1,"at":"B","y0":0,"top":0.232},
    {"g":"CYP79B2c","s":"EH","id":2,"at":"B","y0":0,"top":0.338},
    {"g":"CYP79B2c","s":"EH","id":2,"at":"C","y0":0.169,"top":0.338},
    {"g":"CYP79B2c","s":"H","id":1,"at":"A","y0":0.322,"top":0.372},
    {"g":"CYP79B2c","s":"H","id":1,"at":"B","y0":0,"top":0.372},
    {"g":"CYP79B2c","s":"H","id":2,"at":"B","y0":0,"top":0.853},
    {"g":"CYP79B2c","s":"H","id":2,"at":"C","y0":0.786,"top":0.853},
    {"g":"CYP79B2c","s":"SC","id":1,"at":"A","y0":0.754,"top":0.866},
    {"g":"CYP79B2c","s":"SC","id":1,"at":"B","y0":0,"top":0.866},
    {"g":"CYP79B2c","s":"SC","id":2,"at":"B","y0":0,"top":1.436},
    {"g":"CYP79B2c","s":"SC","id":2,"at":"C","y0":1.374,"top":1.436},
    {"g":"CYP79B2c","s":"PW","id":1,"at":"A","y0":0.286,"top":0.325},
    {"g":"CYP79B2c","s":"PW","id":1,"at":"B","y0":0,"top":0.325},
    {"g":"CYP79B2c","s":"D0","id":1,"at":"B","y0":0,"top":0.247},
    {"g":"CYP79B2c","s":"D0","id":1,"at":"C","y0":0.208,"top":0.247},
    {"g":"CYP79B2c","s":"D7","id":1,"at":"B","y0":0,"top":1.233},
    {"g":"CYP79B2c","s":"D7","id":1,"at":"C","y0":1.17,"top":1.233},

    {"g":"CYP79B3","s":"D7","id":1,"at":"B","y0":2.17,"top":25.6},
    {"g":"CYP79B3","s":"D7","id":1,"at":"C","y0":24.9,"top":25.6},

    {"g":"CYP83A1","s":"EH","id":1,"at":"A","y0":118.2,"top":131.5},
    {"g":"CYP83A1","s":"EH","id":1,"at":"B","y0":14.4,"top":131.5},
    {"g":"CYP83A1","s":"EH","id":2,"at":"A","y0":131.5,"top":149.4},
    {"g":"CYP83A1","s":"EH","id":2,"at":"C","y0":46.1,"top":149.4},
    {"g":"CYP83A1","s":"EH","id":3,"at":"B","y0":15.6,"top":68.6},
    {"g":"CYP83A1","s":"EH","id":3,"at":"C","y0":49,"top":68.6},
    {"g":"CYP83A1","s":"H","id":1,"at":"A","y0":240.5,"top":250.9},
    {"g":"CYP83A1","s":"H","id":1,"at":"B","y0":32.9,"top":250.9},
    {"g":"CYP83A1","s":"H","id":2,"at":"A","y0":250.9,"top":275.1},
    {"g":"CYP83A1","s":"H","id":2,"at":"C","y0":135.5,"top":275.1},
    {"g":"CYP83A1","s":"H","id":3,"at":"B","y0":32.9,"top":141.3},
    {"g":"CYP83A1","s":"H","id":3,"at":"C","y0":132.6,"top":141.3},
    {"g":"CYP83A1","s":"SC","id":1,"at":"A","y0":330.4,"top":344.3},
    {"g":"CYP83A1","s":"SC","id":1,"at":"B","y0":60.6,"top":344.3},
    {"g":"CYP83A1","s":"SC","id":2,"at":"A","y0":344.3,"top":367.4},
    {"g":"CYP83A1","s":"SC","id":2,"at":"C","y0":210.5,"top":367.4},
    {"g":"CYP83A1","s":"SC","id":3,"at":"B","y0":60.6,"top":215.1},
    {"g":"CYP83A1","s":"SC","id":3,"at":"C","y0":205.9,"top":215.1},
    {"g":"CYP83A1","s":"PW","id":1,"at":"A","y0":222,"top":230.7},
    {"g":"CYP83A1","s":"PW","id":1,"at":"B","y0":24.8,"top":230.7},
    {"g":"CYP83A1","s":"D0","id":1,"at":"A","y0":26,"top":49},
    {"g":"CYP83A1","s":"D0","id":1,"at":"B","y0":8.7,"top":49},
    {"g":"CYP83A1","s":"D0","id":2,"at":"B","y0":8.7,"top":94},
    {"g":"CYP83A1","s":"D0","id":2,"at":"C","y0":69.2,"top":94},
    {"g":"CYP83A1","s":"D7","id":1,"at":"A","y0":20.2,"top":128.6},
    {"g":"CYP83A1","s":"D7","id":1,"at":"C","y0":102,"top":128.6},
    {"g":"CYP83A1","s":"D7","id":2,"at":"B","y0":19,"top":105.5},
    {"g":"CYP83A1","s":"D7","id":2,"at":"C","y0":102,"top":105.5},

    {"g":"GSTF11","s":"EH","id":1,"at":"A","y0":4,"top":4.63},
    {"g":"GSTF11","s":"EH","id":1,"at":"B","y0":2.31,"top":4.63},
    {"g":"GSTF11","s":"H","id":1,"at":"A","y0":8.98,"top":9.33},
    {"g":"GSTF11","s":"H","id":1,"at":"B","y0":2.02,"top":9.33},
    {"g":"GSTF11","s":"H","id":2,"at":"A","y0":9.33,"top":10.12},
    {"g":"GSTF11","s":"H","id":2,"at":"C","y0":5.77,"top":10.12},
    {"g":"GSTF11","s":"H","id":3,"at":"B","y0":2.02,"top":6.07},
    {"g":"GSTF11","s":"H","id":3,"at":"C","y0":5.77,"top":6.07},
    {"g":"GSTF11","s":"SC","id":1,"at":"A","y0":7.16,"top":7.65},
    {"g":"GSTF11","s":"SC","id":1,"at":"B","y0":3.7,"top":7.65},
    {"g":"GSTF11","s":"PW","id":1,"at":"A","y0":5.28,"top":6.07},
    {"g":"GSTF11","s":"PW","id":1,"at":"B","y0":1.52,"top":6.07},
    {"g":"GSTF11","s":"D0","id":1,"at":"A","y0":3.3,"top":4.03},
    {"g":"GSTF11","s":"D0","id":1,"at":"B","y0":0.63,"top":4.03},
    {"g":"GSTF11","s":"D0","id":2,"at":"A","y0":4.03,"top":4.78},
    {"g":"GSTF11","s":"D0","id":2,"at":"C","y0":1.32,"top":4.78},
    {"g":"GSTF11","s":"D7","id":1,"at":"A","y0":11.41,"top":11.84},
    {"g":"GSTF11","s":"D7","id":1,"at":"B","y0":1.52,"top":11.84},
    {"g":"GSTF11","s":"D7","id":2,"at":"A","y0":11.84,"top":12.69},
    {"g":"GSTF11","s":"D7","id":2,"at":"C","y0":4.19,"top":12.69},
    {"g":"GSTF11","s":"D7","id":3,"at":"B","y0":1.52,"top":4.55},
    {"g":"GSTF11","s":"D7","id":3,"at":"C","y0":4.19,"top":4.55},

    {"g":"SOT17a","s":"EH","id":1,"at":"A","y0":11.1,"top":14.8},
    {"g":"SOT17a","s":"EH","id":1,"at":"B","y0":2.9,"top":14.8},
    {"g":"SOT17a","s":"EH","id":2,"at":"A","y0":14.8,"top":21.7},
    {"g":"SOT17a","s":"EH","id":2,"at":"C","y0":2.1,"top":21.7},
    {"g":"SOT17a","s":"H","id":1,"at":"A","y0":29.9,"top":34.4},
    {"g":"SOT17a","s":"H","id":1,"at":"B","y0":10.3,"top":34.4},
    {"g":"SOT17a","s":"H","id":2,"at":"A","y0":34.4,"top":41.6},
    {"g":"SOT17a","s":"H","id":2,"at":"C","y0":15.5,"top":41.6},
    {"g":"SOT17a","s":"SC","id":1,"at":"B","y0":13.5,"top":49.1},
    {"g":"SOT17a","s":"SC","id":1,"at":"C","y0":46.2,"top":49.1},
    {"g":"SOT17a","s":"PW","id":1,"at":"A","y0":95.9,"top":104.9},
    {"g":"SOT17a","s":"PW","id":1,"at":"C","y0":37.2,"top":104.9},
    {"g":"SOT17a","s":"D7","id":1,"at":"A","y0":77.7,"top":84},
    {"g":"SOT17a","s":"D7","id":1,"at":"B","y0":7.5,"top":84},
    {"g":"SOT17a","s":"D7","id":2,"at":"B","y0":7.5,"top":44.9},
    {"g":"SOT17a","s":"D7","id":2,"at":"C","y0":41.3,"top":44.9},

    {"g":"SOT18f","s":"EH","id":1,"at":"A","y0":1.2,"top":1.34},
    {"g":"SOT18f","s":"EH","id":1,"at":"B","y0":0.34,"top":1.34},
    {"g":"SOT18f","s":"EH","id":2,"at":"B","y0":0.34,"top":1.68},
    {"g":"SOT18f","s":"EH","id":2,"at":"C","y0":1.57,"top":1.68},
    {"g":"SOT18f","s":"H","id":1,"at":"A","y0":1.87,"top":2.01},
    {"g":"SOT18f","s":"H","id":1,"at":"B","y0":0.34,"top":2.01},
    {"g":"SOT18f","s":"H","id":2,"at":"B","y0":0.34,"top":2.98},
    {"g":"SOT18f","s":"H","id":2,"at":"C","y0":2.87,"top":2.98},
    {"g":"SOT18f","s":"SC","id":1,"at":"A","y0":1.74,"top":1.85},
    {"g":"SOT18f","s":"SC","id":1,"at":"B","y0":0.25,"top":1.85},
    {"g":"SOT18f","s":"SC","id":2,"at":"B","y0":0.25,"top":2.38},
    {"g":"SOT18f","s":"SC","id":2,"at":"C","y0":2.18,"top":2.38},
    {"g":"SOT18f","s":"PW","id":1,"at":"A","y0":1.77,"top":1.92},
    {"g":"SOT18f","s":"PW","id":1,"at":"B","y0":0.32,"top":1.92},
    {"g":"SOT18f","s":"D0","id":1,"at":"A","y0":2.0,"top":2.17},
    {"g":"SOT18f","s":"D0","id":1,"at":"B","y0":0.2,"top":2.17},
    {"g":"SOT18f","s":"D0","id":2,"at":"A","y0":2.17,"top":2.44},
    {"g":"SOT18f","s":"D0","id":2,"at":"C","y0":0.39,"top":2.44},
    {"g":"SOT18f","s":"D7","id":1,"at":"A","y0":1.9,"top":2.02},
    {"g":"SOT18f","s":"D7","id":1,"at":"B","y0":0.51,"top":2.02},
    {"g":"SOT18f","s":"D7","id":2,"at":"A","y0":2.02,"top":2.23},
    {"g":"SOT18f","s":"D7","id":2,"at":"C","y0":0.74,"top":2.23},

    {"g":"FMO GS-OX1","s":"H","id":1,"at":"A","y0":1.32,"top":1.59},
    {"g":"FMO GS-OX1","s":"H","id":1,"at":"C","y0":0.1,"top":1.59},
    {"g":"FMO GS-OX1","s":"PW","id":1,"at":"A","y0":2.79,"top":2.98},
    {"g":"FMO GS-OX1","s":"PW","id":1,"at":"B","y0":0.49,"top":2.98},
    {"g":"FMO GS-OX1","s":"PW","id":2,"at":"A","y0":2.98,"top":3.41},
    {"g":"FMO GS-OX1","s":"PW","id":2,"at":"C","y0":0.1,"top":3.41},
    {"g":"FMO GS-OX1","s":"D0","id":1,"at":"A","y0":4.84,"top":5.07},
    {"g":"FMO GS-OX1","s":"D0","id":1,"at":"B","y0":0.7,"top":5.07},
    {"g":"FMO GS-OX1","s":"D0","id":2,"at":"A","y0":5.07,"top":5.63},
    {"g":"FMO GS-OX1","s":"D0","id":2,"at":"C","y0":0.05,"top":5.63},
    {"g":"FMO GS-OX1","s":"D7","id":1,"at":"A","y0":1.99,"top":2.33},
    {"g":"FMO GS-OX1","s":"D7","id":1,"at":"B","y0":0.2,"top":2.33},
    {"g":"FMO GS-OX1","s":"D7","id":2,"at":"A","y0":2.33,"top":2.54},
    {"g":"FMO GS-OX1","s":"D7","id":2,"at":"C","y0":0.1,"top":2.54},

    {"g":"BCAT4","s":"EH","at":"AB","y":76.6,"t":"•••","c":"g"},
    {"g":"BCAT4","s":"EH","at":"B","y":101.3,"t":"•••","c":"g"},
    {"g":"BCAT4","s":"EH","at":"A","y":49.4,"t":"•••","c":"r"},
    {"g":"BCAT4","s":"EH","at":"B","y":16.3,"t":"•","c":"r"},
    {"g":"BCAT4","s":"EH","at":"C","y":16.3,"t":"•••","c":"r"},
    {"g":"BCAT4","s":"H","at":"AB","y":146,"t":"•••","c":"g"},
    {"g":"BCAT4","s":"H","at":"B","y":174,"t":"•","c":"g"},
    {"g":"BCAT4","s":"H","at":"BC","y":100,"t":"•••","c":"b"},
    {"g":"BCAT4","s":"SC","at":"AB","y":232,"t":"••","c":"g"},
    {"g":"BCAT4","s":"SC","at":"B","y":117,"t":"•••","c":"k"},
    {"g":"BCAT4","s":"PW","at":"AB","y":276,"t":"••","c":"g"},
    {"g":"BCAT4","s":"D0","at":"B","y":111,"t":"••","c":"b"},
    {"g":"BCAT4","s":"D0","at":"BC","y":92,"t":"•••","c":"b"},
    {"g":"BCAT4","s":"D0","at":"A","y":36.6,"t":"•••","c":"r"},
    {"g":"BCAT4","s":"D7","at":"B","y":143,"t":"•••","c":"b"},
    {"g":"BCAT4","s":"D7","at":"BC","y":123.6,"t":"•••","c":"b"},
    {"g":"BCAT4","s":"D7","at":"A","y":13.3,"t":"•••","c":"r"},
    {"g":"BCAT4","s":"D7","at":"B","y":13.3,"t":"•••","c":"r"},

    {"g":"BCAT4a","s":"EH","at":"AB","y":16.9,"t":"•••","c":"g"},
    {"g":"BCAT4a","s":"EH","at":"B","y":23.6,"t":"•••","c":"g"},
    {"g":"BCAT4a","s":"EH","at":"A","y":9.9,"t":"•••","c":"r"},
    {"g":"BCAT4a","s":"EH","at":"B","y":5.2,"t":"•","c":"r"},
    {"g":"BCAT4a","s":"EH","at":"C","y":4,"t":"•••","c":"r"},
    {"g":"BCAT4a","s":"SC","at":"B","y":85.1,"t":"•••","c":"k"},
    {"g":"BCAT4a","s":"SC","at":"BC","y":93.4,"t":"••","c":"g"},
    {"g":"BCAT4a","s":"D0","at":"AB","y":22,"t":"•","c":"b"},
    {"g":"BCAT4a","s":"D0","at":"A","y":12.9,"t":"•••","c":"r"},
    {"g":"BCAT4a","s":"D0","at":"C","y":20.2,"t":"•","c":"r"},
    {"g":"BCAT4a","s":"D7","at":"AB","y":36.8,"t":"•","c":"b"},
    {"g":"BCAT4a","s":"D7","at":"B","y":51.3,"t":"•••","c":"b"},
    {"g":"BCAT4a","s":"D7","at":"A","y":8.7,"t":"•••","c":"r"},

    {"g":"MAM1a","s":"EH","at":"AB","y":24.5,"t":"•••","c":"g"},
    {"g":"MAM1a","s":"EH","at":"B","y":31.8,"t":"•••","c":"g"},
    {"g":"MAM1a","s":"EH","at":"BC","y":11,"t":"•••","c":"g"},
    {"g":"MAM1a","s":"EH","at":"A","y":18.6,"t":"•••","c":"r"},
    {"g":"MAM1a","s":"H","at":"AB","y":49.2,"t":"•••","c":"g"},
    {"g":"MAM1a","s":"H","at":"B","y":55.6,"t":"•••","c":"g"},
    {"g":"MAM1a","s":"SC","at":"B","y":78,"t":"•••","c":"g"},
    {"g":"MAM1a","s":"SC","at":"BC","y":45.7,"t":"••","c":"g"},
    {"g":"MAM1a","s":"PW","at":"AB","y":89.9,"t":"••","c":"g"},
    {"g":"MAM1a","s":"D0","at":"AB","y":19.5,"t":"••","c":"g"},
    {"g":"MAM1a","s":"D0","at":"A","y":11.6,"t":"•••","c":"r"},
    {"g":"MAM1a","s":"D0","at":"B","y":7.7,"t":"••","c":"r"},
    {"g":"MAM1a","s":"D7","at":"A","y":4.8,"t":"•••","c":"r"},
    {"g":"MAM1a","s":"D7","at":"B","y":6.7,"t":"•••","c":"r"},

    {"g":"MAM1b","s":"EH","at":"AB","y":13.7,"t":"•••","c":"g"},
    {"g":"MAM1b","s":"EH","at":"B","y":18.6,"t":"•••","c":"g"},
    {"g":"MAM1b","s":"EH","at":"A","y":8.2,"t":"•••","c":"r"},
    {"g":"MAM1b","s":"EH","at":"B","y":4.1,"t":"••","c":"r"},
    {"g":"MAM1b","s":"EH","at":"C","y":4.4,"t":"•••","c":"r"},
    {"g":"MAM1b","s":"H","at":"B","y":45.6,"t":"••","c":"b"},
    {"g":"MAM1b","s":"H","at":"BC","y":41,"t":"•••","c":"b"},
    {"g":"MAM1b","s":"H","at":"AB","y":22,"t":"•••","c":"g"},
    {"g":"MAM1b","s":"SC","at":"AB","y":31.6,"t":"•","c":"g"},
    {"g":"MAM1b","s":"SC","at":"B","y":18.8,"t":"•","c":"k"},
    {"g":"MAM1b","s":"SC","at":"BC","y":51.8,"t":"•••","c":"b"},
    {"g":"MAM1b","s":"PW","at":"AB","y":37.7,"t":"••","c":"g"},
    {"g":"MAM1b","s":"D0","at":"AB","y":8.5,"t":"•","c":"g"},
    {"g":"MAM1b","s":"D0","at":"A","y":4.4,"t":"•••","c":"r"},
    {"g":"MAM1b","s":"D0","at":"B","y":2.8,"t":"•••","c":"r"},
    {"g":"MAM1b","s":"D0","at":"BC","y":21.7,"t":"•","c":"b"},
    {"g":"MAM1b","s":"D0","at":"C","y":15.6,"t":"•••","c":"r"},
    {"g":"MAM1b","s":"D7","at":"B","y":39.4,"t":"•••","c":"b"},
    {"g":"MAM1b","s":"D7","at":"BC","y":35.5,"t":"•••","c":"b"},
    {"g":"MAM1b","s":"D7","at":"A","y":3.1,"t":"•••","c":"r"},
    {"g":"MAM1b","s":"D7","at":"B","y":3.8,"t":"•••","c":"r"},

    {"g":"MAM1c","s":"EH","at":"AB","y":26,"t":"•••","c":"g"},
    {"g":"MAM1c","s":"EH","at":"BC","y":39.2,"t":"••","c":"b"},
    {"g":"MAM1c","s":"EH","at":"A","y":11.8,"t":"•••","c":"r"},
    {"g":"MAM1c","s":"EH","at":"C","y":11.3,"t":"•••","c":"r"},
    {"g":"MAM1c","s":"H","at":"AB","y":34.2,"t":"•••","c":"g"},
    {"g":"MAM1c","s":"H","at":"B","y":74.5,"t":"••","c":"b"},
    {"g":"MAM1c","s":"H","at":"BC","y":62.4,"t":"•••","c":"b"},
    {"g":"MAM1c","s":"SC","at":"B","y":121,"t":"•","c":"b"},
    {"g":"MAM1c","s":"SC","at":"BC","y":107.9,"t":"•••","c":"b"},
    {"g":"MAM1c","s":"SC","at":"B","y":32.4,"t":"•••","c":"k"},
    {"g":"MAM1c","s":"PW","at":"AB","y":77.1,"t":"••","c":"g"},
    {"g":"MAM1c","s":"D0","at":"AB","y":31.6,"t":"•","c":"g"},
    {"g":"MAM1c","s":"D0","at":"B","y":65.5,"t":"•••","c":"b"},
    {"g":"MAM1c","s":"D0","at":"BC","y":52.6,"t":"•••","c":"b"},
    {"g":"MAM1c","s":"D0","at":"A","y":17.4,"t":"•••","c":"r"},
    {"g":"MAM1c","s":"D7","at":"B","y":126,"t":"•••","c":"b"},
    {"g":"MAM1c","s":"D7","at":"BC","y":111.3,"t":"•••","c":"b"},
    {"g":"MAM1c","s":"D7","at":"C","y":98.7,"t":"•","c":"k"},
    {"g":"MAM1c","s":"D7","at":"A","y":10.5,"t":"•••","c":"r"},
    {"g":"MAM1c","s":"D7","at":"B","y":10,"t":"•","c":"r"},

    {"g":"BCAT3-1a","s":"PW","at":"AB","y":128.3,"t":"•••","c":"b"},
    {"g":"BCAT3-1a","s":"PW","at":"BC","y":149.5,"t":"•••","c":"g"},
    {"g":"BCAT3-1a","s":"PW","at":"B","y":105.1,"t":"•••","c":"k"},
    {"g":"BCAT3-1a","s":"D0","at":"AB","y":194.9,"t":"•••","c":"b"},
    {"g":"BCAT3-1a","s":"D0","at":"B","y":245.7,"t":"••","c":"g"},
    {"g":"BCAT3-1a","s":"D0","at":"BC","y":223,"t":"•••","c":"g"},
    {"g":"BCAT3-1a","s":"D0","at":"A","y":71,"t":"•••","c":"k"},
    {"g":"BCAT3-1a","s":"D0","at":"B","y":172.2,"t":"•••","c":"k"},
    {"g":"BCAT3-1a","s":"D7","at":"AB","y":296,"t":"•••","c":"b"},
    {"g":"BCAT3-1a","s":"D7","at":"BC","y":325.6,"t":"•••","c":"g"},
    {"g":"BCAT3-1a","s":"D7","at":"A","y":71,"t":"•••","c":"k"},
    {"g":"BCAT3-1a","s":"D7","at":"B","y":269.9,"t":"•••","c":"k"},
    {"g":"BCAT3-1a","s":"D7","at":"C","y":85.8,"t":"•••","c":"k"},

    {"g":"CYP79F1","s":"EH","at":"B","y":32.2,"t":"•••","c":"g"},
    {"g":"CYP79F1","s":"EH","at":"BC","y":23.8,"t":"•","c":"g"},
    {"g":"CYP79F1","s":"EH","at":"A","y":24,"t":"•••","c":"r"},
    {"g":"CYP79F1","s":"EH","at":"B","y":17.2,"t":"••","c":"r"},
    {"g":"CYP79F1","s":"EH","at":"C","y":12.7,"t":"•••","c":"r"},
    {"g":"CYP79F1","s":"SC","at":"B","y":102.8,"t":"•","c":"g"},
    {"g":"CYP79F1","s":"PW","at":"B","y":29.1,"t":"•","c":"r"},
    {"g":"CYP79F1","s":"D0","at":"B","y":49.8,"t":"•••","c":"b"},
    {"g":"CYP79F1","s":"D0","at":"BC","y":40.6,"t":"••","c":"b"},
    {"g":"CYP79F1","s":"D0","at":"AB","y":23.4,"t":"•••","c":"b"},
    {"g":"CYP79F1","s":"D0","at":"C","y":31.6,"t":"••","c":"r"},
    {"g":"CYP79F1","s":"D0","at":"A","y":8.6,"t":"•••","c":"r"},
    {"g":"CYP79F1","s":"D0","at":"B","y":14.8,"t":"•••","c":"r"},
    {"g":"CYP79F1","s":"D7","at":"B","y":59.7,"t":"•••","c":"b"},
    {"g":"CYP79F1","s":"D7","at":"BC","y":53.3,"t":"•••","c":"b"},
    {"g":"CYP79F1","s":"D7","at":"AB","y":17.2,"t":"••","c":"b"},
    {"g":"CYP79F1","s":"D7","at":"A","y":5.9,"t":"•••","c":"r"},
    {"g":"CYP79F1","s":"D7","at":"B","y":10,"t":"•••","c":"r"},

    {"g":"CYP79B2c","s":"EH","at":"AB","y":0.294,"t":"•","c":"g"},
    {"g":"CYP79B2c","s":"EH","at":"BC","y":0.408,"t":"•","c":"b"},
    {"g":"CYP79B2c","s":"H","at":"AB","y":0.419,"t":"•••","c":"g"},
    {"g":"CYP79B2c","s":"H","at":"BC","y":0.905,"t":"•••","c":"b"},
    {"g":"CYP79B2c","s":"SC","at":"AB","y":0.916,"t":"•••","c":"g"},
    {"g":"CYP79B2c","s":"SC","at":"BC","y":1.488,"t":"•••","c":"b"},
    {"g":"CYP79B2c","s":"PW","at":"AB","y":0.382,"t":"••","c":"g"},
    {"g":"CYP79B2c","s":"D0","at":"BC","y":0.297,"t":"•","c":"b"},
    {"g":"CYP79B2c","s":"D7","at":"BC","y":1.293,"t":"•","c":"b"},

    {"g":"CYP79B3","s":"D0","at":"B","y":5.33,"t":"••","c":"k"},
    {"g":"CYP79B3","s":"D7","at":"BC","y":26.8,"t":"•","c":"b"},
    {"g":"CYP79B3","s":"D7","at":"C","y":24,"t":"•","c":"k"},

    {"g":"CYP83A1","s":"EH","at":"AB","y":136.7,"t":"•••","c":"g"},
    {"g":"CYP83A1","s":"EH","at":"B","y":161.5,"t":"•••","c":"g"},
    {"g":"CYP83A1","s":"EH","at":"BC","y":81.3,"t":"•••","c":"b"},
    {"g":"CYP83A1","s":"EH","at":"A","y":113.6,"t":"•••","c":"r"},
    {"g":"CYP83A1","s":"EH","at":"C","y":54.8,"t":"•••","c":"r"},
    {"g":"CYP83A1","s":"H","at":"AB","y":262.4,"t":"•••","c":"g"},
    {"g":"CYP83A1","s":"H","at":"B","y":287.2,"t":"••","c":"g"},
    {"g":"CYP83A1","s":"H","at":"BC","y":153.4,"t":"•••","c":"b"},
    {"g":"CYP83A1","s":"SC","at":"AB","y":356.4,"t":"•••","c":"g"},
    {"g":"CYP83A1","s":"SC","at":"B","y":378.9,"t":"•","c":"g"},
    {"g":"CYP83A1","s":"SC","at":"BC","y":229.5,"t":"•••","c":"b"},
    {"g":"CYP83A1","s":"PW","at":"AB","y":241.6,"t":"•••","c":"g"},
    {"g":"CYP83A1","s":"PW","at":"B","y":20.2,"t":"••","c":"r"},
    {"g":"CYP83A1","s":"D0","at":"AB","y":58.8,"t":"••","c":"g"},
    {"g":"CYP83A1","s":"D0","at":"BC","y":106.1,"t":"•••","c":"b"},
    {"g":"CYP83A1","s":"D0","at":"A","y":33.4,"t":"•••","c":"r"},
    {"g":"CYP83A1","s":"D0","at":"B","y":10.4,"t":"•••","c":"r"},
    {"g":"CYP83A1","s":"D0","at":"C","y":75,"t":"•••","c":"r"},
    {"g":"CYP83A1","s":"D7","at":"B","y":140.1,"t":"•••","c":"b"},
    {"g":"CYP83A1","s":"D7","at":"BC","y":117.6,"t":"•••","c":"b"},
    {"g":"CYP83A1","s":"D7","at":"A","y":14.4,"t":"•••","c":"r"},
    {"g":"CYP83A1","s":"D7","at":"B","y":13.3,"t":"•••","c":"r"},

    {"g":"GSTF11","s":"EH","at":"AB","y":4.98,"t":"•","c":"g"},
    {"g":"GSTF11","s":"EH","at":"A","y":4.25,"t":"•••","c":"r"},
    {"g":"GSTF11","s":"EH","at":"C","y":3.16,"t":"•","c":"r"},
    {"g":"GSTF11","s":"H","at":"AB","y":9.69,"t":"•••","c":"g"},
    {"g":"GSTF11","s":"H","at":"B","y":10.6,"t":"•","c":"g"},
    {"g":"GSTF11","s":"H","at":"BC","y":6.56,"t":"••","c":"b"},
    {"g":"GSTF11","s":"SC","at":"AB","y":8.05,"t":"•","c":"g"},
    {"g":"GSTF11","s":"PW","at":"AB","y":6.5,"t":"••","c":"g"},
    {"g":"GSTF11","s":"PW","at":"A","y":5.58,"t":"•••","c":"r"},
    {"g":"GSTF11","s":"D0","at":"AB","y":4.39,"t":"••","c":"g"},
    {"g":"GSTF11","s":"D0","at":"B","y":5.18,"t":"•","c":"g"},
    {"g":"GSTF11","s":"D0","at":"A","y":3.6,"t":"•••","c":"r"},
    {"g":"GSTF11","s":"D0","at":"B","y":0.93,"t":"••","c":"r"},
    {"g":"GSTF11","s":"D0","at":"C","y":1.52,"t":"•••","c":"r"},
    {"g":"GSTF11","s":"D7","at":"AB","y":12.24,"t":"•••","c":"g"},
    {"g":"GSTF11","s":"D7","at":"B","y":13.03,"t":"••","c":"g"},
    {"g":"GSTF11","s":"D7","at":"BC","y":4.94,"t":"••","c":"b"},

    {"g":"SOT17a","s":"EH","at":"AB","y":18.1,"t":"•••","c":"g"},
    {"g":"SOT17a","s":"EH","at":"B","y":25.3,"t":"•••","c":"g"},
    {"g":"SOT17a","s":"EH","at":"A","y":10.3,"t":"•••","c":"r"},
    {"g":"SOT17a","s":"EH","at":"C","y":4.6,"t":"•••","c":"r"},
    {"g":"SOT17a","s":"H","at":"AB","y":37.7,"t":"•••","c":"g"},
    {"g":"SOT17a","s":"H","at":"B","y":45.4,"t":"•","c":"g"},
    {"g":"SOT17a","s":"SC","at":"BC","y":53,"t":"•","c":"b"},
    {"g":"SOT17a","s":"PW","at":"B","y":109,"t":"•","c":"g"},
    {"g":"SOT17a","s":"PW","at":"A","y":98.4,"t":"•••","c":"k"},
    {"g":"SOT17a","s":"D0","at":"B","y":60.4,"t":"•••","c":"k"},
    {"g":"SOT17a","s":"D0","at":"C","y":72.3,"t":"•••","c":"k"},
    {"g":"SOT17a","s":"D7","at":"AB","y":87.4,"t":"•","c":"g"},
    {"g":"SOT17a","s":"D7","at":"BC","y":48.6,"t":"•","c":"b"},

    {"g":"SOT18f","s":"EH","at":"AB","y":1.45,"t":"••","c":"g"},
    {"g":"SOT18f","s":"EH","at":"BC","y":1.82,"t":"•","c":"b"},
    {"g":"SOT18f","s":"EH","at":"C","y":1.28,"t":"•","c":"r"},
    {"g":"SOT18f","s":"H","at":"AB","y":2.12,"t":"•••","c":"g"},
    {"g":"SOT18f","s":"H","at":"BC","y":3.1,"t":"•••","c":"b"},
    {"g":"SOT18f","s":"SC","at":"AB","y":1.98,"t":"•••","c":"g"},
    {"g":"SOT18f","s":"SC","at":"BC","y":2.49,"t":"•••","c":"b"},
    {"g":"SOT18f","s":"PW","at":"AB","y":2.02,"t":"•••","c":"g"},
    {"g":"SOT18f","s":"PW","at":"C","y":0.87,"t":"••","c":"r"},
    {"g":"SOT18f","s":"D0","at":"AB","y":2.27,"t":"•••","c":"g"},
    {"g":"SOT18f","s":"D0","at":"B","y":2.56,"t":"•••","c":"g"},
    {"g":"SOT18f","s":"D0","at":"C","y":0.5,"t":"•••","c":"r"},
    {"g":"SOT18f","s":"D7","at":"AB","y":2.13,"t":"•••","c":"g"},
    {"g":"SOT18f","s":"D7","at":"B","y":2.33,"t":"••","c":"g"},
    {"g":"SOT18f","s":"D7","at":"C","y":0.84,"t":"•••","c":"r"},

    {"g":"FMO GS-OX1","s":"H","at":"B","y":1.79,"t":"••","c":"g"},
    {"g":"FMO GS-OX1","s":"PW","at":"AB","y":3.21,"t":"•••","c":"g"},
    {"g":"FMO GS-OX1","s":"PW","at":"B","y":3.64,"t":"•••","c":"g"},
    {"g":"FMO GS-OX1","s":"D0","at":"AB","y":5.28,"t":"•","c":"g"},
    {"g":"FMO GS-OX1","s":"D0","at":"B","y":5.84,"t":"•••","c":"g"},
    {"g":"FMO GS-OX1","s":"D7","at":"AB","y":2.5,"t":"•","c":"g"},
    {"g":"FMO GS-OX1","s":"D7","at":"B","y":2.76,"t":"•••","c":"g"}
  ]},
  "concat": [
    {"title": "BCAT4", "transform": [{"filter": {"field": "g", "equal": "BCAT4"}}], "resolve": {"axis": {"y": "independent"}},
     "encoding": {"x": {"field": "s", "type": "nominal", "sort": ["EH","H","SC","PW","D0","D7"], "title": "Sample point"}},
     "layer": [
      {"mark": {"type": "bar", "width": 16.5}, "encoding": {"xOffset": {"field": "k", "scale": {"domain": ["A","AB","B","BC","C"]}}, "y": {"field": "v", "type": "quantitative", "title": "FPKM", "scale": {"domain": [0, 300], "nice": false}, "axis": {"values": [0,50,100,150,200,250,300], "format": ".2f"}}, "color": {"field": "k", "title": null, "scale": {"domain": ["A","B","C"]}}}},
      {"mark": {"type": "rule", "color": "#404040"}, "encoding": {"xOffset": {"field": "k"}, "y": {"field": "lo", "type": "quantitative", "axis": null}, "y2": {"field": "hi"}}},
      {"transform": [{"fold": ["lo","hi"], "as": ["e","ev"]}], "mark": {"type": "tick", "color": "#404040", "size": 7, "thickness": 1}, "encoding": {"xOffset": {"field": "k"}, "y": {"field": "ev", "type": "quantitative", "axis": null}}},
      {"mark": {"type": "rule", "color": "#9a9a9a", "strokeWidth": 1.2}, "encoding": {"xOffset": {"field": "at"}, "y": {"field": "y0", "type": "quantitative", "axis": null}, "y2": {"field": "top"}}},
      {"mark": {"type": "line", "color": "#9a9a9a", "strokeWidth": 1.2}, "encoding": {"xOffset": {"field": "at"}, "y": {"field": "top", "type": "quantitative", "axis": null}, "detail": [{"field": "s"}, {"field": "id"}]}},
      {"mark": {"type": "text", "font": "DejaVu Sans", "fontSize": 9, "baseline": "middle"}, "encoding": {"xOffset": {"field": "at"}, "y": {"field": "y", "type": "quantitative", "axis": null}, "text": {"field": "t"}, "fill": {"field": "c", "scale": {"domain": ["r","g","b","k"], "range": ["#f00000","#55cc22","#1010ee","#000000"]}, "legend": null}}}
     ]},
    {"title": "BCAT4a", "transform": [{"filter": {"field": "g", "equal": "BCAT4a"}}], "resolve": {"axis": {"y": "independent"}},
     "encoding": {"x": {"field": "s", "type": "nominal", "sort": ["EH","H","SC","PW","D0","D7"], "title": "Sample point"}},
     "layer": [
      {"mark": {"type": "bar", "width": 16.5}, "encoding": {"xOffset": {"field": "k", "scale": {"domain": ["A","AB","B","BC","C"]}}, "y": {"field": "v", "type": "quantitative", "title": "FPKM", "scale": {"domain": [0, 90], "nice": false}, "axis": {"values": [0,10,20,30,40,50,60,70,80,90], "format": ".2f"}}, "color": {"field": "k", "title": null, "scale": {"domain": ["A","B","C"]}}}},
      {"mark": {"type": "rule", "color": "#404040"}, "encoding": {"xOffset": {"field": "k"}, "y": {"field": "lo", "type": "quantitative", "axis": null}, "y2": {"field": "hi"}}},
      {"transform": [{"fold": ["lo","hi"], "as": ["e","ev"]}], "mark": {"type": "tick", "color": "#404040", "size": 7, "thickness": 1}, "encoding": {"xOffset": {"field": "k"}, "y": {"field": "ev", "type": "quantitative", "axis": null}}},
      {"mark": {"type": "rule", "color": "#9a9a9a", "strokeWidth": 1.2}, "encoding": {"xOffset": {"field": "at"}, "y": {"field": "y0", "type": "quantitative", "axis": null}, "y2": {"field": "top"}}},
      {"mark": {"type": "line", "color": "#9a9a9a", "strokeWidth": 1.2}, "encoding": {"xOffset": {"field": "at"}, "y": {"field": "top", "type": "quantitative", "axis": null}, "detail": [{"field": "s"}, {"field": "id"}]}},
      {"mark": {"type": "text", "font": "DejaVu Sans", "fontSize": 9, "baseline": "middle"}, "encoding": {"xOffset": {"field": "at"}, "y": {"field": "y", "type": "quantitative", "axis": null}, "text": {"field": "t"}, "fill": {"field": "c", "scale": {"domain": ["r","g","b","k"], "range": ["#f00000","#55cc22","#1010ee","#000000"]}, "legend": null}}}
     ]},
    {"title": "MAM1a", "transform": [{"filter": {"field": "g", "equal": "MAM1a"}}], "resolve": {"axis": {"y": "independent"}},
     "encoding": {"x": {"field": "s", "type": "nominal", "sort": ["EH","H","SC","PW","D0","D7"], "title": "Sample point"}},
     "layer": [
      {"mark": {"type": "bar", "width": 16.5}, "encoding": {"xOffset": {"field": "k", "scale": {"domain": ["A","AB","B","BC","C"]}}, "y": {"field": "v", "type": "quantitative", "title": "FPKM", "scale": {"domain": [0, 90], "nice": false}, "axis": {"values": [0,10,20,30,40,50,60,70,80,90], "format": ".2f"}}, "color": {"field": "k", "title": null, "scale": {"domain": ["A","B","C"]}}}},
      {"mark": {"type": "rule", "color": "#404040"}, "encoding": {"xOffset": {"field": "k"}, "y": {"field": "lo", "type": "quantitative", "axis": null}, "y2": {"field": "hi"}}},
      {"transform": [{"fold": ["lo","hi"], "as": ["e","ev"]}], "mark": {"type": "tick", "color": "#404040", "size": 7, "thickness": 1}, "encoding": {"xOffset": {"field": "k"}, "y": {"field": "ev", "type": "quantitative", "axis": null}}},
      {"mark": {"type": "rule", "color": "#9a9a9a", "strokeWidth": 1.2}, "encoding": {"xOffset": {"field": "at"}, "y": {"field": "y0", "type": "quantitative", "axis": null}, "y2": {"field": "top"}}},
      {"mark": {"type": "line", "color": "#9a9a9a", "strokeWidth": 1.2}, "encoding": {"xOffset": {"field": "at"}, "y": {"field": "top", "type": "quantitative", "axis": null}, "detail": [{"field": "s"}, {"field": "id"}]}},
      {"mark": {"type": "text", "font": "DejaVu Sans", "fontSize": 9, "baseline": "middle"}, "encoding": {"xOffset": {"field": "at"}, "y": {"field": "y", "type": "quantitative", "axis": null}, "text": {"field": "t"}, "fill": {"field": "c", "scale": {"domain": ["r","g","b","k"], "range": ["#f00000","#55cc22","#1010ee","#000000"]}, "legend": null}}}
     ]},
    {"title": "MAM1b", "transform": [{"filter": {"field": "g", "equal": "MAM1b"}}], "resolve": {"axis": {"y": "independent"}},
     "encoding": {"x": {"field": "s", "type": "nominal", "sort": ["EH","H","SC","PW","D0","D7"], "title": "Sample point"}},
     "layer": [
      {"mark": {"type": "bar", "width": 16.5}, "encoding": {"xOffset": {"field": "k", "scale": {"domain": ["A","AB","B","BC","C"]}}, "y": {"field": "v", "type": "quantitative", "title": "FPKM", "scale": {"domain": [0, 60], "nice": false}, "axis": {"values": [0,10,20,30,40,50,60], "format": ".2f"}}, "color": {"field": "k", "title": null, "scale": {"domain": ["A","B","C"]}}}},
      {"mark": {"type": "rule", "color": "#404040"}, "encoding": {"xOffset": {"field": "k"}, "y": {"field": "lo", "type": "quantitative", "axis": null}, "y2": {"field": "hi"}}},
      {"transform": [{"fold": ["lo","hi"], "as": ["e","ev"]}], "mark": {"type": "tick", "color": "#404040", "size": 7, "thickness": 1}, "encoding": {"xOffset": {"field": "k"}, "y": {"field": "ev", "type": "quantitative", "axis": null}}},
      {"mark": {"type": "rule", "color": "#9a9a9a", "strokeWidth": 1.2}, "encoding": {"xOffset": {"field": "at"}, "y": {"field": "y0", "type": "quantitative", "axis": null}, "y2": {"field": "top"}}},
      {"mark": {"type": "line", "color": "#9a9a9a", "strokeWidth": 1.2}, "encoding": {"xOffset": {"field": "at"}, "y": {"field": "top", "type": "quantitative", "axis": null}, "detail": [{"field": "s"}, {"field": "id"}]}},
      {"mark": {"type": "text", "font": "DejaVu Sans", "fontSize": 9, "baseline": "middle"}, "encoding": {"xOffset": {"field": "at"}, "y": {"field": "y", "type": "quantitative", "axis": null}, "text": {"field": "t"}, "fill": {"field": "c", "scale": {"domain": ["r","g","b","k"], "range": ["#f00000","#55cc22","#1010ee","#000000"]}, "legend": null}}}
     ]},
    {"title": "MAM1c", "transform": [{"filter": {"field": "g", "equal": "MAM1c"}}], "resolve": {"axis": {"y": "independent"}},
     "encoding": {"x": {"field": "s", "type": "nominal", "sort": ["EH","H","SC","PW","D0","D7"], "title": "Sample point"}},
     "layer": [
      {"mark": {"type": "bar", "width": 16.5}, "encoding": {"xOffset": {"field": "k", "scale": {"domain": ["A","AB","B","BC","C"]}}, "y": {"field": "v", "type": "quantitative", "title": "FPKM", "scale": {"domain": [0, 160], "nice": false}, "axis": {"values": [0,20,40,60,80,100,120,140,160], "format": ".2f"}}, "color": {"field": "k", "title": null, "scale": {"domain": ["A","B","C"]}}}},
      {"mark": {"type": "rule", "color": "#404040"}, "encoding": {"xOffset": {"field": "k"}, "y": {"field": "lo", "type": "quantitative", "axis": null}, "y2": {"field": "hi"}}},
      {"transform": [{"fold": ["lo","hi"], "as": ["e","ev"]}], "mark": {"type": "tick", "color": "#404040", "size": 7, "thickness": 1}, "encoding": {"xOffset": {"field": "k"}, "y": {"field": "ev", "type": "quantitative", "axis": null}}},
      {"mark": {"type": "rule", "color": "#9a9a9a", "strokeWidth": 1.2}, "encoding": {"xOffset": {"field": "at"}, "y": {"field": "y0", "type": "quantitative", "axis": null}, "y2": {"field": "top"}}},
      {"mark": {"type": "line", "color": "#9a9a9a", "strokeWidth": 1.2}, "encoding": {"xOffset": {"field": "at"}, "y": {"field": "top", "type": "quantitative", "axis": null}, "detail": [{"field": "s"}, {"field": "id"}]}},
      {"mark": {"type": "text", "font": "DejaVu Sans", "fontSize": 9, "baseline": "middle"}, "encoding": {"xOffset": {"field": "at"}, "y": {"field": "y", "type": "quantitative", "axis": null}, "text": {"field": "t"}, "fill": {"field": "c", "scale": {"domain": ["r","g","b","k"], "range": ["#f00000","#55cc22","#1010ee","#000000"]}, "legend": null}}}
     ]},
    {"title": "BCAT3-1a", "transform": [{"filter": {"field": "g", "equal": "BCAT3-1a"}}], "resolve": {"axis": {"y": "independent"}},
     "encoding": {"x": {"field": "s", "type": "nominal", "sort": ["EH","H","SC","PW","D0","D7"], "title": "Sample point"}},
     "layer": [
      {"mark": {"type": "bar", "width": 16.5}, "encoding": {"xOffset": {"field": "k", "scale": {"domain": ["A","AB","B","BC","C"]}}, "y": {"field": "v", "type": "quantitative", "title": "FPKM", "scale": {"domain": [0, 300], "nice": false}, "axis": {"values": [0,50,100,150,200,250,300], "format": ".2f"}}, "color": {"field": "k", "title": null, "scale": {"domain": ["A","B","C"]}}}},
      {"mark": {"type": "rule", "color": "#404040"}, "encoding": {"xOffset": {"field": "k"}, "y": {"field": "lo", "type": "quantitative", "axis": null}, "y2": {"field": "hi"}}},
      {"transform": [{"fold": ["lo","hi"], "as": ["e","ev"]}], "mark": {"type": "tick", "color": "#404040", "size": 7, "thickness": 1}, "encoding": {"xOffset": {"field": "k"}, "y": {"field": "ev", "type": "quantitative", "axis": null}}},
      {"mark": {"type": "rule", "color": "#9a9a9a", "strokeWidth": 1.2}, "encoding": {"xOffset": {"field": "at"}, "y": {"field": "y0", "type": "quantitative", "axis": null}, "y2": {"field": "top"}}},
      {"mark": {"type": "line", "color": "#9a9a9a", "strokeWidth": 1.2}, "encoding": {"xOffset": {"field": "at"}, "y": {"field": "top", "type": "quantitative", "axis": null}, "detail": [{"field": "s"}, {"field": "id"}]}},
      {"mark": {"type": "text", "font": "DejaVu Sans", "fontSize": 9, "baseline": "middle"}, "encoding": {"xOffset": {"field": "at"}, "y": {"field": "y", "type": "quantitative", "axis": null}, "text": {"field": "t"}, "fill": {"field": "c", "scale": {"domain": ["r","g","b","k"], "range": ["#f00000","#55cc22","#1010ee","#000000"]}, "legend": null}}}
     ]},
    {"title": "CYP79F1", "transform": [{"filter": {"field": "g", "equal": "CYP79F1"}}], "resolve": {"axis": {"y": "independent"}},
     "encoding": {"x": {"field": "s", "type": "nominal", "sort": ["EH","H","SC","PW","D0","D7"], "title": "Sample point"}},
     "layer": [
      {"mark": {"type": "bar", "width": 16.5}, "encoding": {"xOffset": {"field": "k", "scale": {"domain": ["A","AB","B","BC","C"]}}, "y": {"field": "v", "type": "quantitative", "title": "FPKM", "scale": {"domain": [0, 120], "nice": false}, "axis": {"values": [0,20,40,60,80,100,120], "format": ".2f"}}, "color": {"field": "k", "title": null, "scale": {"domain": ["A","B","C"]}}}},
      {"mark": {"type": "rule", "color": "#404040"}, "encoding": {"xOffset": {"field": "k"}, "y": {"field": "lo", "type": "quantitative", "axis": null}, "y2": {"field": "hi"}}},
      {"transform": [{"fold": ["lo","hi"], "as": ["e","ev"]}], "mark": {"type": "tick", "color": "#404040", "size": 7, "thickness": 1}, "encoding": {"xOffset": {"field": "k"}, "y": {"field": "ev", "type": "quantitative", "axis": null}}},
      {"mark": {"type": "rule", "color": "#9a9a9a", "strokeWidth": 1.2}, "encoding": {"xOffset": {"field": "at"}, "y": {"field": "y0", "type": "quantitative", "axis": null}, "y2": {"field": "top"}}},
      {"mark": {"type": "line", "color": "#9a9a9a", "strokeWidth": 1.2}, "encoding": {"xOffset": {"field": "at"}, "y": {"field": "top", "type": "quantitative", "axis": null}, "detail": [{"field": "s"}, {"field": "id"}]}},
      {"mark": {"type": "text", "font": "DejaVu Sans", "fontSize": 9, "baseline": "middle"}, "encoding": {"xOffset": {"field": "at"}, "y": {"field": "y", "type": "quantitative", "axis": null}, "text": {"field": "t"}, "fill": {"field": "c", "scale": {"domain": ["r","g","b","k"], "range": ["#f00000","#55cc22","#1010ee","#000000"]}, "legend": null}}}
     ]},
    {"title": "CYP79B2c", "transform": [{"filter": {"field": "g", "equal": "CYP79B2c"}}], "resolve": {"axis": {"y": "independent"}},
     "encoding": {"x": {"field": "s", "type": "nominal", "sort": ["EH","H","SC","PW","D0","D7"], "title": "Sample point"}},
     "layer": [
      {"mark": {"type": "bar", "width": 16.5}, "encoding": {"xOffset": {"field": "k", "scale": {"domain": ["A","AB","B","BC","C"]}}, "y": {"field": "v", "type": "quantitative", "title": "FPKM", "scale": {"domain": [0, 1.6], "nice": false}, "axis": {"values": [0,0.2,0.4,0.6,0.8,1,1.2,1.4,1.6], "format": ".2f"}}, "color": {"field": "k", "title": null, "scale": {"domain": ["A","B","C"]}}}},
      {"mark": {"type": "rule", "color": "#404040"}, "encoding": {"xOffset": {"field": "k"}, "y": {"field": "lo", "type": "quantitative", "axis": null}, "y2": {"field": "hi"}}},
      {"transform": [{"fold": ["lo","hi"], "as": ["e","ev"]}], "mark": {"type": "tick", "color": "#404040", "size": 7, "thickness": 1}, "encoding": {"xOffset": {"field": "k"}, "y": {"field": "ev", "type": "quantitative", "axis": null}}},
      {"mark": {"type": "rule", "color": "#9a9a9a", "strokeWidth": 1.2}, "encoding": {"xOffset": {"field": "at"}, "y": {"field": "y0", "type": "quantitative", "axis": null}, "y2": {"field": "top"}}},
      {"mark": {"type": "line", "color": "#9a9a9a", "strokeWidth": 1.2}, "encoding": {"xOffset": {"field": "at"}, "y": {"field": "top", "type": "quantitative", "axis": null}, "detail": [{"field": "s"}, {"field": "id"}]}},
      {"mark": {"type": "text", "font": "DejaVu Sans", "fontSize": 9, "baseline": "middle"}, "encoding": {"xOffset": {"field": "at"}, "y": {"field": "y", "type": "quantitative", "axis": null}, "text": {"field": "t"}, "fill": {"field": "c", "scale": {"domain": ["r","g","b","k"], "range": ["#f00000","#55cc22","#1010ee","#000000"]}, "legend": null}}}
     ]},
    {"title": "CYP79B3", "transform": [{"filter": {"field": "g", "equal": "CYP79B3"}}], "resolve": {"axis": {"y": "independent"}},
     "encoding": {"x": {"field": "s", "type": "nominal", "sort": ["EH","H","SC","PW","D0","D7"], "title": "Sample point"}},
     "layer": [
      {"mark": {"type": "bar", "width": 16.5}, "encoding": {"xOffset": {"field": "k", "scale": {"domain": ["A","AB","B","BC","C"]}}, "y": {"field": "v", "type": "quantitative", "title": "FPKM", "scale": {"domain": [0, 25], "nice": false}, "axis": {"values": [0,5,10,15,20,25], "format": ".2f"}}, "color": {"field": "k", "title": null, "scale": {"domain": ["A","B","C"]}}}},
      {"mark": {"type": "rule", "color": "#404040"}, "encoding": {"xOffset": {"field": "k"}, "y": {"field": "lo", "type": "quantitative", "axis": null}, "y2": {"field": "hi"}}},
      {"transform": [{"fold": ["lo","hi"], "as": ["e","ev"]}], "mark": {"type": "tick", "color": "#404040", "size": 7, "thickness": 1}, "encoding": {"xOffset": {"field": "k"}, "y": {"field": "ev", "type": "quantitative", "axis": null}}},
      {"mark": {"type": "rule", "color": "#9a9a9a", "strokeWidth": 1.2}, "encoding": {"xOffset": {"field": "at"}, "y": {"field": "y0", "type": "quantitative", "axis": null}, "y2": {"field": "top"}}},
      {"mark": {"type": "line", "color": "#9a9a9a", "strokeWidth": 1.2}, "encoding": {"xOffset": {"field": "at"}, "y": {"field": "top", "type": "quantitative", "axis": null}, "detail": [{"field": "s"}, {"field": "id"}]}},
      {"mark": {"type": "text", "font": "DejaVu Sans", "fontSize": 9, "baseline": "middle"}, "encoding": {"xOffset": {"field": "at"}, "y": {"field": "y", "type": "quantitative", "axis": null}, "text": {"field": "t"}, "fill": {"field": "c", "scale": {"domain": ["r","g","b","k"], "range": ["#f00000","#55cc22","#1010ee","#000000"]}, "legend": null}}}
     ]},
    {"title": "CYP83A1", "transform": [{"filter": {"field": "g", "equal": "CYP83A1"}}], "resolve": {"axis": {"y": "independent"}},
     "encoding": {"x": {"field": "s", "type": "nominal", "sort": ["EH","H","SC","PW","D0","D7"], "title": "Sample point"}},
     "layer": [
      {"mark": {"type": "bar", "width": 16.5}, "encoding": {"xOffset": {"field": "k", "scale": {"domain": ["A","AB","B","BC","C"]}}, "y": {"field": "v", "type": "quantitative", "title": "FPKM", "scale": {"domain": [0, 350], "nice": false}, "axis": {"values": [0,50,100,150,200,250,300,350], "format": ".2f"}}, "color": {"field": "k", "title": null, "scale": {"domain": ["A","B","C"]}}}},
      {"mark": {"type": "rule", "color": "#404040"}, "encoding": {"xOffset": {"field": "k"}, "y": {"field": "lo", "type": "quantitative", "axis": null}, "y2": {"field": "hi"}}},
      {"transform": [{"fold": ["lo","hi"], "as": ["e","ev"]}], "mark": {"type": "tick", "color": "#404040", "size": 7, "thickness": 1}, "encoding": {"xOffset": {"field": "k"}, "y": {"field": "ev", "type": "quantitative", "axis": null}}},
      {"mark": {"type": "rule", "color": "#9a9a9a", "strokeWidth": 1.2}, "encoding": {"xOffset": {"field": "at"}, "y": {"field": "y0", "type": "quantitative", "axis": null}, "y2": {"field": "top"}}},
      {"mark": {"type": "line", "color": "#9a9a9a", "strokeWidth": 1.2}, "encoding": {"xOffset": {"field": "at"}, "y": {"field": "top", "type": "quantitative", "axis": null}, "detail": [{"field": "s"}, {"field": "id"}]}},
      {"mark": {"type": "text", "font": "DejaVu Sans", "fontSize": 9, "baseline": "middle"}, "encoding": {"xOffset": {"field": "at"}, "y": {"field": "y", "type": "quantitative", "axis": null}, "text": {"field": "t"}, "fill": {"field": "c", "scale": {"domain": ["r","g","b","k"], "range": ["#f00000","#55cc22","#1010ee","#000000"]}, "legend": null}}}
     ]},
    {"title": "GSTF11", "transform": [{"filter": {"field": "g", "equal": "GSTF11"}}], "resolve": {"axis": {"y": "independent"}},
     "encoding": {"x": {"field": "s", "type": "nominal", "sort": ["EH","H","SC","PW","D0","D7"], "title": "Sample point"}},
     "layer": [
      {"mark": {"type": "bar", "width": 16.5}, "encoding": {"xOffset": {"field": "k", "scale": {"domain": ["A","AB","B","BC","C"]}}, "y": {"field": "v", "type": "quantitative", "title": "FPKM", "scale": {"domain": [0, 12], "nice": false}, "axis": {"values": [0,2,4,6,8,10,12], "format": ".2f"}}, "color": {"field": "k", "title": null, "scale": {"domain": ["A","B","C"]}}}},
      {"mark": {"type": "rule", "color": "#404040"}, "encoding": {"xOffset": {"field": "k"}, "y": {"field": "lo", "type": "quantitative", "axis": null}, "y2": {"field": "hi"}}},
      {"transform": [{"fold": ["lo","hi"], "as": ["e","ev"]}], "mark": {"type": "tick", "color": "#404040", "size": 7, "thickness": 1}, "encoding": {"xOffset": {"field": "k"}, "y": {"field": "ev", "type": "quantitative", "axis": null}}},
      {"mark": {"type": "rule", "color": "#9a9a9a", "strokeWidth": 1.2}, "encoding": {"xOffset": {"field": "at"}, "y": {"field": "y0", "type": "quantitative", "axis": null}, "y2": {"field": "top"}}},
      {"mark": {"type": "line", "color": "#9a9a9a", "strokeWidth": 1.2}, "encoding": {"xOffset": {"field": "at"}, "y": {"field": "top", "type": "quantitative", "axis": null}, "detail": [{"field": "s"}, {"field": "id"}]}},
      {"mark": {"type": "text", "font": "DejaVu Sans", "fontSize": 9, "baseline": "middle"}, "encoding": {"xOffset": {"field": "at"}, "y": {"field": "y", "type": "quantitative", "axis": null}, "text": {"field": "t"}, "fill": {"field": "c", "scale": {"domain": ["r","g","b","k"], "range": ["#f00000","#55cc22","#1010ee","#000000"]}, "legend": null}}}
     ]},
    {"title": "SOT17a", "transform": [{"filter": {"field": "g", "equal": "SOT17a"}}], "resolve": {"axis": {"y": "independent"}},
     "encoding": {"x": {"field": "s", "type": "nominal", "sort": ["EH","H","SC","PW","D0","D7"], "title": "Sample point"}},
     "layer": [
      {"mark": {"type": "bar", "width": 16.5}, "encoding": {"xOffset": {"field": "k", "scale": {"domain": ["A","AB","B","BC","C"]}}, "y": {"field": "v", "type": "quantitative", "title": "FPKM", "scale": {"domain": [0, 100], "nice": false}, "axis": {"values": [0,10,20,30,40,50,60,70,80,90,100], "format": ".2f"}}, "color": {"field": "k", "title": null, "scale": {"domain": ["A","B","C"]}}}},
      {"mark": {"type": "rule", "color": "#404040"}, "encoding": {"xOffset": {"field": "k"}, "y": {"field": "lo", "type": "quantitative", "axis": null}, "y2": {"field": "hi"}}},
      {"transform": [{"fold": ["lo","hi"], "as": ["e","ev"]}], "mark": {"type": "tick", "color": "#404040", "size": 7, "thickness": 1}, "encoding": {"xOffset": {"field": "k"}, "y": {"field": "ev", "type": "quantitative", "axis": null}}},
      {"mark": {"type": "rule", "color": "#9a9a9a", "strokeWidth": 1.2}, "encoding": {"xOffset": {"field": "at"}, "y": {"field": "y0", "type": "quantitative", "axis": null}, "y2": {"field": "top"}}},
      {"mark": {"type": "line", "color": "#9a9a9a", "strokeWidth": 1.2}, "encoding": {"xOffset": {"field": "at"}, "y": {"field": "top", "type": "quantitative", "axis": null}, "detail": [{"field": "s"}, {"field": "id"}]}},
      {"mark": {"type": "text", "font": "DejaVu Sans", "fontSize": 9, "baseline": "middle"}, "encoding": {"xOffset": {"field": "at"}, "y": {"field": "y", "type": "quantitative", "axis": null}, "text": {"field": "t"}, "fill": {"field": "c", "scale": {"domain": ["r","g","b","k"], "range": ["#f00000","#55cc22","#1010ee","#000000"]}, "legend": null}}}
     ]},
    {"title": "SOT18f", "transform": [{"filter": {"field": "g", "equal": "SOT18f"}}], "resolve": {"axis": {"y": "independent"}},
     "encoding": {"x": {"field": "s", "type": "nominal", "sort": ["EH","H","SC","PW","D0","D7"], "title": "Sample point"}},
     "layer": [
      {"mark": {"type": "bar", "width": 16.5}, "encoding": {"xOffset": {"field": "k", "scale": {"domain": ["A","AB","B","BC","C"]}}, "y": {"field": "v", "type": "quantitative", "title": "FPKM", "scale": {"domain": [0, 3], "nice": false}, "axis": {"values": [0,0.5,1,1.5,2,2.5,3], "format": ".2f"}}, "color": {"field": "k", "title": null, "scale": {"domain": ["A","B","C"]}}}},
      {"mark": {"type": "rule", "color": "#404040"}, "encoding": {"xOffset": {"field": "k"}, "y": {"field": "lo", "type": "quantitative", "axis": null}, "y2": {"field": "hi"}}},
      {"transform": [{"fold": ["lo","hi"], "as": ["e","ev"]}], "mark": {"type": "tick", "color": "#404040", "size": 7, "thickness": 1}, "encoding": {"xOffset": {"field": "k"}, "y": {"field": "ev", "type": "quantitative", "axis": null}}},
      {"mark": {"type": "rule", "color": "#9a9a9a", "strokeWidth": 1.2}, "encoding": {"xOffset": {"field": "at"}, "y": {"field": "y0", "type": "quantitative", "axis": null}, "y2": {"field": "top"}}},
      {"mark": {"type": "line", "color": "#9a9a9a", "strokeWidth": 1.2}, "encoding": {"xOffset": {"field": "at"}, "y": {"field": "top", "type": "quantitative", "axis": null}, "detail": [{"field": "s"}, {"field": "id"}]}},
      {"mark": {"type": "text", "font": "DejaVu Sans", "fontSize": 9, "baseline": "middle"}, "encoding": {"xOffset": {"field": "at"}, "y": {"field": "y", "type": "quantitative", "axis": null}, "text": {"field": "t"}, "fill": {"field": "c", "scale": {"domain": ["r","g","b","k"], "range": ["#f00000","#55cc22","#1010ee","#000000"]}, "legend": null}}}
     ]},
    {"title": "FMO GS-OX1", "transform": [{"filter": {"field": "g", "equal": "FMO GS-OX1"}}], "resolve": {"axis": {"y": "independent"}},
     "encoding": {"x": {"field": "s", "type": "nominal", "sort": ["EH","H","SC","PW","D0","D7"], "title": "Sample point"}},
     "layer": [
      {"mark": {"type": "bar", "width": 16.5}, "encoding": {"xOffset": {"field": "k", "scale": {"domain": ["A","AB","B","BC","C"]}}, "y": {"field": "v", "type": "quantitative", "title": "FPKM", "scale": {"domain": [0, 6], "nice": false}, "axis": {"values": [0,1,2,3,4,5,6], "format": ".2f"}}, "color": {"field": "k", "title": null, "scale": {"domain": ["A","B","C"]}}}},
      {"mark": {"type": "rule", "color": "#404040"}, "encoding": {"xOffset": {"field": "k"}, "y": {"field": "lo", "type": "quantitative", "axis": null}, "y2": {"field": "hi"}}},
      {"transform": [{"fold": ["lo","hi"], "as": ["e","ev"]}], "mark": {"type": "tick", "color": "#404040", "size": 7, "thickness": 1}, "encoding": {"xOffset": {"field": "k"}, "y": {"field": "ev", "type": "quantitative", "axis": null}}},
      {"mark": {"type": "rule", "color": "#9a9a9a", "strokeWidth": 1.2}, "encoding": {"xOffset": {"field": "at"}, "y": {"field": "y0", "type": "quantitative", "axis": null}, "y2": {"field": "top"}}},
      {"mark": {"type": "line", "color": "#9a9a9a", "strokeWidth": 1.2}, "encoding": {"xOffset": {"field": "at"}, "y": {"field": "top", "type": "quantitative", "axis": null}, "detail": [{"field": "s"}, {"field": "id"}]}},
      {"mark": {"type": "text", "font": "DejaVu Sans", "fontSize": 9, "baseline": "middle"}, "encoding": {"xOffset": {"field": "at"}, "y": {"field": "y", "type": "quantitative", "axis": null}, "text": {"field": "t"}, "fill": {"field": "c", "scale": {"domain": ["r","g","b","k"], "range": ["#f00000","#55cc22","#1010ee","#000000"]}, "legend": null}}}
     ]}
  ]
}
